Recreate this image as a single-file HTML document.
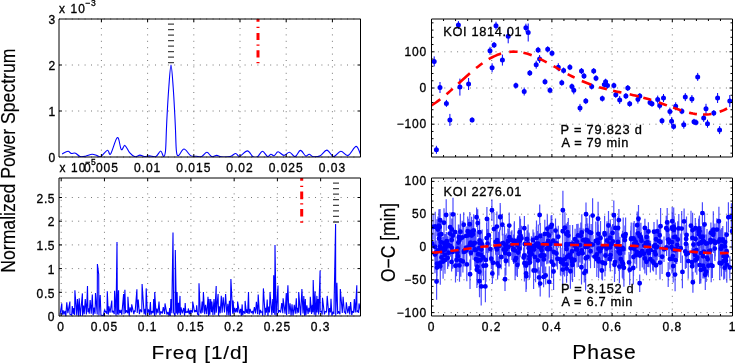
<!DOCTYPE html>
<html><head><meta charset="utf-8"><style>html,body{margin:0;padding:0;background:#fff;overflow:hidden;}svg{display:block;filter:blur(0.3px);}</style></head>
<body>
<svg width="735" height="363" viewBox="0 0 735 363" font-family='"Liberation Sans", sans-serif'>
<rect width="735" height="363" fill="#fff"/>
<defs>
<clipPath id="cTL"><rect x="59" y="19" width="301.5" height="138"/></clipPath>
<clipPath id="cBL"><rect x="59" y="178" width="301.5" height="138"/></clipPath>
<clipPath id="cTR"><rect x="431.5" y="19" width="301.0" height="138"/></clipPath>
<clipPath id="cBR"><rect x="431.5" y="178" width="301.0" height="138"/></clipPath>
</defs>
<line x1="101.40" y1="157" x2="101.40" y2="19" stroke="#777" stroke-width="1" stroke-dasharray="1 5.4"/>
<line x1="147.60" y1="157" x2="147.60" y2="19" stroke="#777" stroke-width="1" stroke-dasharray="1 5.4"/>
<line x1="193.80" y1="157" x2="193.80" y2="19" stroke="#777" stroke-width="1" stroke-dasharray="1 5.4"/>
<line x1="240.00" y1="157" x2="240.00" y2="19" stroke="#777" stroke-width="1" stroke-dasharray="1 5.4"/>
<line x1="286.20" y1="157" x2="286.20" y2="19" stroke="#777" stroke-width="1" stroke-dasharray="1 5.4"/>
<line x1="332.40" y1="157" x2="332.40" y2="19" stroke="#777" stroke-width="1" stroke-dasharray="1 5.4"/>
<line x1="59" y1="111.00" x2="360.5" y2="111.00" stroke="#777" stroke-width="1" stroke-dasharray="1 5.4"/>
<line x1="59" y1="65.00" x2="360.5" y2="65.00" stroke="#777" stroke-width="1" stroke-dasharray="1 5.4"/>
<line x1="59" y1="19.00" x2="360.5" y2="19.00" stroke="#777" stroke-width="1" stroke-dasharray="1 5.4"/>
<line x1="59" y1="157.00" x2="360.5" y2="157.00" stroke="#777" stroke-width="1" stroke-dasharray="1 5.4"/>
<g clip-path="url(#cTL)"><path d="M62.1,154 C63.08,153.53 66.5,151.3 68,151.2 C69.5,151.1 69.85,153.07 71.1,153.4 C72.35,153.73 74.02,152.68 75.5,153.2 C76.98,153.72 78.33,156 80,156.5 C81.67,157 83.48,156.57 85.5,156.2 C87.52,155.83 90.18,154.4 92.1,154.3 C94.02,154.2 95.53,155.23 97,155.6 C98.47,155.97 99.15,157.4 100.9,156.5 C102.65,155.6 105.88,150.62 107.5,150.2 C109.12,149.78 108.95,156.12 110.6,154 C112.25,151.88 115.62,138.23 117.4,137.5 C119.18,136.77 120.05,148.28 121.3,149.6 C122.55,150.92 123.52,144.9 124.9,145.4 C126.28,145.9 127.92,150.72 129.6,152.6 C131.28,154.48 133.28,156.28 135,156.7 C136.72,157.12 138.35,155.13 139.9,155.1 C141.45,155.07 142.73,156.37 144.3,156.5 C145.87,156.63 147.37,155.9 149.3,155.9 C151.23,155.9 154,157.32 155.9,156.5 C157.8,155.68 159.42,151 160.7,151 C161.98,151 162.8,156.5 163.6,156.5 C164.4,156.5 165.03,155.42 165.5,151 C165.97,146.58 166.13,136 166.4,130 C166.67,124 166.7,122.08 167.1,115 C167.5,107.92 168.15,95.83 168.8,87.5 C169.45,79.17 170.27,65 171,65 C171.73,65 172.57,79.17 173.2,87.5 C173.83,95.83 174.42,107.92 174.8,115 C175.18,122.08 175.23,124 175.5,130 C175.77,136 175.9,146.73 176.4,151 C176.9,155.27 177.23,155.93 178.5,155.6 C179.77,155.27 181.98,149 184,149 C186.02,149 188.57,154.4 190.6,155.6 C192.63,156.8 194.35,156.05 196.2,156.2 C198.05,156.35 199.92,157.15 201.7,156.5 C203.48,155.85 205.23,152.28 206.9,152.3 C208.57,152.32 210.07,156.08 211.7,156.6 C213.33,157.12 215.12,155.37 216.7,155.4 C218.28,155.43 218.97,156.6 221.2,156.8 C223.43,157 227.68,157.15 230.1,156.6 C232.52,156.05 234.12,153.55 235.7,153.5 C237.28,153.45 237.65,156.73 239.6,156.3 C241.55,155.87 245.17,150.82 247.4,150.9 C249.63,150.98 251.32,155.82 253,156.8 C254.68,157.78 255.92,157.73 257.5,156.8 C259.08,155.87 260.83,151.25 262.5,151.2 C264.17,151.15 266.1,156 267.5,156.5 C268.9,157 269.78,154.33 270.9,154.2 C272.02,154.07 273,156.1 274.2,155.7 C275.4,155.3 276.48,151.85 278.1,151.8 C279.72,151.75 282,155.32 283.9,155.4 C285.8,155.48 287.63,152.1 289.5,152.3 C291.37,152.5 293.28,156.92 295.1,156.6 C296.92,156.28 298.63,150.5 300.4,150.4 C302.17,150.3 304.23,155.37 305.7,156 C307.17,156.63 307.9,154.07 309.2,154.2 C310.5,154.33 311.67,156.55 313.5,156.8 C315.33,157.05 317.97,156.82 320.2,155.7 C322.43,154.58 324.67,149.95 326.9,150.1 C329.13,150.25 331.28,156.42 333.6,156.6 C335.92,156.78 338.38,151.4 340.8,151.2 C343.22,151 345.53,156.2 348.1,155.4 C350.67,154.6 354.05,146.3 356.2,146.4 C358.35,146.5 360.2,154.4 361,156" fill="none" stroke="#00f" stroke-width="1.1"/></g>
<path d="M168,24.1 h6 M168,29.7 h6 M168,35.1 h6 M168,40.6 h6 M168,46.1 h6 M168,51.7 h6 M168,57.1 h6 M168,62.6 h6 " stroke="#444" stroke-width="1.3"/>
<path d="M258,19 V21.8 M258,26.8 V27.9 M258,32.9 V40.1 M258,44.5 V45.7 M258,50.2 V57.6 M258,62 V63.3 " stroke="#f00" stroke-width="3" fill="none"/>
<path d="M101.40,157 v-3 M101.40,19 v3 M147.60,157 v-3 M147.60,19 v3 M193.80,157 v-3 M193.80,19 v3 M240.00,157 v-3 M240.00,19 v3 M286.20,157 v-3 M286.20,19 v3 M332.40,157 v-3 M332.40,19 v3 " stroke="#000" stroke-width="1"/>
<path d="M59,111.00 h3 M360.5,111.00 h-3 M59,65.00 h3 M360.5,65.00 h-3 " stroke="#000" stroke-width="1"/>
<path d="M59,157 L59,19 L360.5,19 L360.5,157 Z" fill="none" stroke="#000" stroke-width="1"/>
<text x="101.40" y="172.00" font-size="12" text-anchor="middle" fill="#000" stroke="#000" stroke-width="0.32" letter-spacing="1.0" >0.005</text>
<text x="147.60" y="172.00" font-size="12" text-anchor="middle" fill="#000" stroke="#000" stroke-width="0.32" letter-spacing="1.0" >0.01</text>
<text x="193.80" y="172.00" font-size="12" text-anchor="middle" fill="#000" stroke="#000" stroke-width="0.32" letter-spacing="1.0" >0.015</text>
<text x="240.00" y="172.00" font-size="12" text-anchor="middle" fill="#000" stroke="#000" stroke-width="0.32" letter-spacing="1.0" >0.02</text>
<text x="286.20" y="172.00" font-size="12" text-anchor="middle" fill="#000" stroke="#000" stroke-width="0.32" letter-spacing="1.0" >0.025</text>
<text x="332.40" y="172.00" font-size="12" text-anchor="middle" fill="#000" stroke="#000" stroke-width="0.32" letter-spacing="1.0" >0.03</text>
<text x="55.10" y="162.20" font-size="12" text-anchor="end" fill="#000" stroke="#000" stroke-width="0.32" >0</text>
<text x="55.10" y="116.20" font-size="12" text-anchor="end" fill="#000" stroke="#000" stroke-width="0.32" >1</text>
<text x="55.10" y="70.20" font-size="12" text-anchor="end" fill="#000" stroke="#000" stroke-width="0.32" >2</text>
<text x="55.10" y="24.20" font-size="12" text-anchor="end" fill="#000" stroke="#000" stroke-width="0.32" >3</text>
<text x="59.00" y="12.70" font-size="11.9" text-anchor="start" fill="#000" stroke="#000" stroke-width="0.32" letter-spacing="1.1" >x 10</text>
<text x="85.50" y="6.00" font-size="8.5" text-anchor="start" fill="#000" stroke="#000" stroke-width="0.32" letter-spacing="0.5" >−3</text>
<line x1="61.20" y1="316" x2="61.20" y2="178" stroke="#777" stroke-width="1" stroke-dasharray="1 5.4"/>
<line x1="104.44" y1="316" x2="104.44" y2="178" stroke="#777" stroke-width="1" stroke-dasharray="1 5.4"/>
<line x1="147.68" y1="316" x2="147.68" y2="178" stroke="#777" stroke-width="1" stroke-dasharray="1 5.4"/>
<line x1="190.92" y1="316" x2="190.92" y2="178" stroke="#777" stroke-width="1" stroke-dasharray="1 5.4"/>
<line x1="234.16" y1="316" x2="234.16" y2="178" stroke="#777" stroke-width="1" stroke-dasharray="1 5.4"/>
<line x1="277.40" y1="316" x2="277.40" y2="178" stroke="#777" stroke-width="1" stroke-dasharray="1 5.4"/>
<line x1="320.64" y1="316" x2="320.64" y2="178" stroke="#777" stroke-width="1" stroke-dasharray="1 5.4"/>
<line x1="59" y1="292.30" x2="360.5" y2="292.30" stroke="#777" stroke-width="1" stroke-dasharray="1 5.4"/>
<line x1="59" y1="268.60" x2="360.5" y2="268.60" stroke="#777" stroke-width="1" stroke-dasharray="1 5.4"/>
<line x1="59" y1="244.90" x2="360.5" y2="244.90" stroke="#777" stroke-width="1" stroke-dasharray="1 5.4"/>
<line x1="59" y1="221.20" x2="360.5" y2="221.20" stroke="#777" stroke-width="1" stroke-dasharray="1 5.4"/>
<line x1="59" y1="197.50" x2="360.5" y2="197.50" stroke="#777" stroke-width="1" stroke-dasharray="1 5.4"/>
<line x1="59" y1="316.00" x2="360.5" y2="316.00" stroke="#777" stroke-width="1" stroke-dasharray="1 5.4"/>
<g clip-path="url(#cBL)"><path d="M60,314.75 L61.8,303.4 L62.12,314.83 L63.18,310.4 L63.86,314.49 L64.99,310.91 L65.83,315.89 L66.78,302.4 L67.86,313.08 L68.71,308.41 L69.9,301.5 L69.92,314.21 L71.68,315.12 L72.27,306.15 L73.25,314.14 L73.77,308.12 L74.66,314.91 L74.9,290.3 L76.74,315.5 L77.42,299 L78.55,315.73 L79.2,298.3 L80.32,315.98 L82.4,293.4 L82.56,315.71 L83.51,305.42 L84.2,314.19 L85.27,299 L86.38,314.43 L87.5,286 L87.96,312.19 L88.64,308.4 L89.26,313.72 L90.14,300.15 L91.24,313.8 L92.3,294.6 L93.14,315.34 L94.09,307.67 L95.04,313.82 L95.5,293 L97.22,314.51 L97.4,264 L98.7,274.3 L98.91,315.57 L100.2,295 L100.93,315 L103.24,315.82 L104.62,309.53 L105.46,312.31 L106.16,311.38 L106.89,313.9 L107.3,291.2 L108.29,314.59 L108.97,306.26 L110.02,312.77 L111.8,300.6 L112.12,312.51 L112.88,310.65 L114.26,313.97 L114.6,290.8 L116.01,315.79 L117,242 L117.37,314.57 L118.6,290.3 L118.73,314.68 L119.28,310.05 L120.27,312.98 L120.98,309.8 L121.77,314.76 L123.6,294 L124.04,314.25 L124.9,289.7 L125.54,313.15 L126.46,310.31 L127.86,313.22 L127.9,296.8 L129.22,315.63 L130.09,307.4 L131.51,312.33 L131.7,304.3 L133.83,314.16 L134.5,310.42 L135.11,312.01 L136.9,289.3 L137.2,312.87 L138.23,299.62 L139.37,314.19 L140.4,309.43 L141.77,312.24 L142.1,284.1 L144.1,314.12 L145.05,308.88 L145.75,315.44 L146.2,288.4 L147.41,313.31 L148.51,309.29 L149.52,314.89 L150.4,302 L150.99,314.71 L151.97,311.1 L153.11,313.21 L153.65,299 L154.53,315.86 L154.7,292.1 L156.09,314.61 L156.89,308.53 L157.98,313.17 L159,301.5 L159.89,314.99 L160.86,311.39 L162.25,313.58 L163.29,307.15 L164.64,313.92 L165,303.4 L166.98,314.69 L167.9,311.99 L169.02,315.7 L169.66,308.03 L170.27,315.88 L170.86,299 L171.87,313.17 L172.1,290.3 L173,232.4 L173.59,312.41 L175.08,315.89 L175.3,249.9 L176.39,313.47 L177.1,292.1 L177.63,314.66 L178.49,302.88 L179.01,313.29 L180,295.9 L180.32,314.96 L181.05,307.41 L182.26,313.44 L183.65,307.98 L184.6,315.73 L185.2,303 L185.82,312.85 L187.02,311.65 L187.85,312.59 L188.36,308.45 L189.26,314.39 L190.17,310.03 L190.76,314.23 L191.39,310.3 L192.56,312.52 L192.7,301.5 L194.62,312.24 L195.3,310.15 L196.2,312.04 L196.68,305.4 L197.51,313.98 L198.78,315.5 L199,283.3 L200.26,311.78 L201.12,313.5 L202.13,301.6 L202.81,312.73 L203.4,292.1 L204.7,314.12 L205.53,304.86 L206.74,314.28 L208,296.8 L208.58,315.93 L209.12,299 L209.85,314.82 L210.68,299 L211.51,312.16 L211.9,301.5 L212.92,314.84 L213.99,299 L214.68,314.66 L216.2,286 L216.22,312.77 L218.1,294 L218.53,315.72 L219.29,306.25 L220.19,313.32 L221.3,295.9 L222.14,312.77 L223.2,297.2 L224.51,312.52 L225.6,294 L226.88,315.2 L227.86,303.73 L228.82,315.49 L229.42,300.79 L230.37,315.95 L230.9,279 L232.68,313.67 L233.1,300.6 L234.04,313.34 L234.75,307.86 L235.75,312.38 L236.58,308.08 L237.43,312.42 L237.6,301.5 L239.5,313.31 L240.6,308.92 L241.3,315.88 L242.18,304.4 L242.67,315.35 L243.5,311.08 L245.02,313.63 L245.1,300.9 L246.32,312.78 L247.11,309.4 L247.65,313.48 L248.5,292.1 L249.02,313.96 L250.06,308.97 L251.25,313.07 L252.34,310.87 L253.13,314.3 L254.4,307.1 L255.52,313.44 L256.38,301.91 L257.65,314.13 L258.2,294.6 L259.47,314.73 L260.44,309.95 L261.02,312.21 L262.08,311.76 L262.71,315.7 L263.4,288.4 L265.1,315.26 L265.75,307.92 L266.36,312.71 L267.2,299.6 L267.93,315.98 L268.76,306.53 L269.52,312.52 L270,292.1 L271.87,314.84 L272.78,299 L273.43,313 L273.7,275.3 L274.72,314.81 L275,245 L276.1,315.76 L278,285.6 L278.19,312.92 L279.36,310.28 L280.57,312.45 L281.75,303.08 L282.82,313.14 L283.1,298.3 L285.07,313.63 L286.3,293.1 L286.59,315.23 L287.9,285.2 L288.9,313.95 L290.03,303.3 L291.08,315.65 L292,304.3 L293.07,315.79 L294.26,304.78 L295.33,313.65 L296.3,298.3 L296.99,313.55 L297.75,307.8 L298.59,312.74 L298.7,292.1 L300.64,315.49 L301.9,289 L303,313.56 L303.8,295.9 L304.55,315.74 L305.32,299 L305.86,315.49 L306.85,305.38 L308.11,314.01 L308.8,307.84 L309.89,312.34 L310.3,296.8 L311.58,314.03 L312.26,304.73 L312.97,312.34 L313.2,280 L314.27,314.72 L315,291.2 L315.79,315.66 L316.9,295.9 L317.09,312.43 L318.05,299 L318.64,314.45 L320.1,270.6 L320.15,312.13 L321.43,311.25 L322.19,314.57 L322.5,297.8 L324.43,314.46 L325.24,311.41 L326.5,312 L327.2,295.9 L328.84,315.49 L329.57,308.14 L330.47,312.44 L331,298.7 L331.9,315.83 L333.04,311.65 L333.9,313.98 L335.6,224 L335.7,315.81 L336.9,282.8 L337.69,313.87 L338.57,311.3 L339.97,314.36 L340.3,289 L342.3,313.05 L343.1,296.8 L344.36,312.11 L345.08,311.88 L345.65,314.16 L346.3,302.4 L347.78,313.25 L349.03,306.16 L349.72,314.35 L350.6,302.1 L351.77,315.03 L352.55,311.05 L353.57,312.65 L354.32,299 L355.29,312.39 L356.8,285.2 L356.91,312.16 L357.85,310.34 L358.64,312.82 L359,303.4 L361,313.17 L362,308" fill="none" stroke="#00f" stroke-width="1.1" stroke-linejoin="miter" stroke-miterlimit="2"/></g>
<path d="M333,183.1 h6 M333,188.6 h6 M333,194.2 h6 M333,199.7 h6 M333,205.3 h6 M333,210.8 h6 M333,216.4 h6 M333,222 h6 " stroke="#444" stroke-width="1.3"/>
<path d="M301.7,178 V180.7 M301.7,185.8 V186.9 M301.7,191.5 V199.2 M301.7,203.3 V204.6 M301.7,209 V216.6 M301.7,221.2 V222.8 " stroke="#f00" stroke-width="3" fill="none"/>
<path d="M61.20,316 v-3 M61.20,178 v3 M104.44,316 v-3 M104.44,178 v3 M147.68,316 v-3 M147.68,178 v3 M190.92,316 v-3 M190.92,178 v3 M234.16,316 v-3 M234.16,178 v3 M277.40,316 v-3 M277.40,178 v3 M320.64,316 v-3 M320.64,178 v3 " stroke="#000" stroke-width="1"/>
<path d="M59,292.30 h3 M360.5,292.30 h-3 M59,268.60 h3 M360.5,268.60 h-3 M59,244.90 h3 M360.5,244.90 h-3 M59,221.20 h3 M360.5,221.20 h-3 M59,197.50 h3 M360.5,197.50 h-3 " stroke="#000" stroke-width="1"/>
<path d="M59,316 L59,178 L360.5,178 L360.5,316 Z" fill="none" stroke="#000" stroke-width="1"/>
<text x="61.20" y="331.00" font-size="12" text-anchor="middle" fill="#000" stroke="#000" stroke-width="0.32" letter-spacing="1.0" >0</text>
<text x="104.44" y="331.00" font-size="12" text-anchor="middle" fill="#000" stroke="#000" stroke-width="0.32" letter-spacing="1.0" >0.05</text>
<text x="147.68" y="331.00" font-size="12" text-anchor="middle" fill="#000" stroke="#000" stroke-width="0.32" letter-spacing="1.0" >0.1</text>
<text x="190.92" y="331.00" font-size="12" text-anchor="middle" fill="#000" stroke="#000" stroke-width="0.32" letter-spacing="1.0" >0.15</text>
<text x="234.16" y="331.00" font-size="12" text-anchor="middle" fill="#000" stroke="#000" stroke-width="0.32" letter-spacing="1.0" >0.2</text>
<text x="277.40" y="331.00" font-size="12" text-anchor="middle" fill="#000" stroke="#000" stroke-width="0.32" letter-spacing="1.0" >0.25</text>
<text x="320.64" y="331.00" font-size="12" text-anchor="middle" fill="#000" stroke="#000" stroke-width="0.32" letter-spacing="1.0" >0.3</text>
<text x="55.10" y="321.20" font-size="12" text-anchor="end" fill="#000" stroke="#000" stroke-width="0.32" letter-spacing="0.6" >0</text>
<text x="55.10" y="297.50" font-size="12" text-anchor="end" fill="#000" stroke="#000" stroke-width="0.32" letter-spacing="0.6" >0.5</text>
<text x="55.10" y="273.80" font-size="12" text-anchor="end" fill="#000" stroke="#000" stroke-width="0.32" letter-spacing="0.6" >1</text>
<text x="55.10" y="250.10" font-size="12" text-anchor="end" fill="#000" stroke="#000" stroke-width="0.32" letter-spacing="0.6" >1.5</text>
<text x="55.10" y="226.40" font-size="12" text-anchor="end" fill="#000" stroke="#000" stroke-width="0.32" letter-spacing="0.6" >2</text>
<text x="55.10" y="202.70" font-size="12" text-anchor="end" fill="#000" stroke="#000" stroke-width="0.32" letter-spacing="0.6" >2.5</text>
<text x="59.50" y="171.60" font-size="11.9" text-anchor="start" fill="#000" stroke="#000" stroke-width="0.32" letter-spacing="1.1" >x 10</text>
<text x="85.50" y="164.80" font-size="8.5" text-anchor="start" fill="#000" stroke="#000" stroke-width="0.32" letter-spacing="0.5" >−5</text>
<line x1="491.70" y1="157" x2="491.70" y2="19" stroke="#777" stroke-width="1" stroke-dasharray="1 5.4"/>
<line x1="551.90" y1="157" x2="551.90" y2="19" stroke="#777" stroke-width="1" stroke-dasharray="1 5.4"/>
<line x1="612.10" y1="157" x2="612.10" y2="19" stroke="#777" stroke-width="1" stroke-dasharray="1 5.4"/>
<line x1="672.30" y1="157" x2="672.30" y2="19" stroke="#777" stroke-width="1" stroke-dasharray="1 5.4"/>
<line x1="431.50" y1="157" x2="431.50" y2="19" stroke="#777" stroke-width="1" stroke-dasharray="1 5.4"/>
<line x1="732.50" y1="157" x2="732.50" y2="19" stroke="#777" stroke-width="1" stroke-dasharray="1 5.4"/>
<line x1="431.5" y1="124.20" x2="732.5" y2="124.20" stroke="#777" stroke-width="1" stroke-dasharray="1 5.4"/>
<line x1="431.5" y1="88.00" x2="732.5" y2="88.00" stroke="#777" stroke-width="1" stroke-dasharray="1 5.4"/>
<line x1="431.5" y1="51.80" x2="732.5" y2="51.80" stroke="#777" stroke-width="1" stroke-dasharray="1 5.4"/>
<g clip-path="url(#cTR)"><path d="M434.2,56.4 V66.4 M458.4,21.1 V29.1 M440,82.0 V93.0 M459.9,78.6 V95.6 M539.6,55.0 V63.0 M468.6,78.0 V90.0 M490,46.8 V54.8 M446.4,99.9 V106.9 M449.9,113.9 V125.9 M472.1,117.4 V122.4 M436.4,145.8 V153.8 M496,21.7 V29.7 M508.2,29.3 V43.3 M525.9,23.7 V31.7 M528.2,23.5 V41.5 M494.1,42.0 V48.0 M492.1,63.3 V72.3 M502.4,54.6 V65.6 M538.1,46.9 V52.9 M536.2,60.7 V68.7 M529.8,70.0 V76.0 M515.9,82.6 V88.6 M545,78.7 V84.7 M524.2,87.5 V95.5 M547.7,46.3 V52.3 M552,50.3 V56.3 M558.3,63.2 V71.2 M563.6,67.5 V73.5 M569.9,64.2 V70.2 M581.5,68.1 V74.1 M584,72.9 V78.9 M593.7,68.1 V74.1 M596,75.2 V81.2 M561.8,79.7 V85.7 M571.9,83.5 V89.5 M591.7,83.5 V89.5 M550,87.3 V93.3 M573.8,86.3 V94.3 M585.8,98.1 V104.1 M580,103.9 V111.9 M605.6,78.7 V84.7 M604.3,81.6 V87.6 M607.5,82.6 V88.6 M613.9,82.6 V88.6 M627.8,85.0 V91.0 M697.7,72.9 V80.9 M602.3,95.6 V101.6 M615.8,91.8 V97.8 M619.7,96.0 V104.0 M625.9,93.1 V99.1 M629.7,100.8 V106.8 M637.9,95.6 V103.6 M639.8,93.1 V99.1 M650,99.5 V105.5 M652,100.8 V106.8 M657.7,95.6 V103.6 M659.7,101.4 V109.4 M663.5,94.0 V102.0 M669.9,107.6 V115.6 M675.7,102.3 V110.3 M681.9,108.2 V114.2 M685.3,93.1 V101.1 M691.9,95.0 V103.0 M662,117.8 V123.8 M671.6,117.2 V125.2 M673.6,123.6 V129.6 M683.8,120.7 V128.7 M694,118.8 V124.8 M696,119.4 V125.4 M703.7,113.9 V121.9 M706,103.8 V113.8 M707.5,119.7 V127.7 M713.8,110.1 V116.1 M717.6,93.0 V103.0 M719.6,126.1 V134.1 M729.8,95.1 V107.1 " stroke="#00f" stroke-width="1"/><path d="M431.7,61.4 a2.5,2.5 0 1,0 5,0 a2.5,2.5 0 1,0 -5,0 M455.9,25.1 a2.5,2.5 0 1,0 5,0 a2.5,2.5 0 1,0 -5,0 M437.5,87.5 a2.5,2.5 0 1,0 5,0 a2.5,2.5 0 1,0 -5,0 M457.4,87.1 a2.5,2.5 0 1,0 5,0 a2.5,2.5 0 1,0 -5,0 M537.1,59 a2.5,2.5 0 1,0 5,0 a2.5,2.5 0 1,0 -5,0 M466.1,84 a2.5,2.5 0 1,0 5,0 a2.5,2.5 0 1,0 -5,0 M487.5,50.8 a2.5,2.5 0 1,0 5,0 a2.5,2.5 0 1,0 -5,0 M443.9,103.4 a2.5,2.5 0 1,0 5,0 a2.5,2.5 0 1,0 -5,0 M447.4,119.9 a2.5,2.5 0 1,0 5,0 a2.5,2.5 0 1,0 -5,0 M469.6,119.9 a2.5,2.5 0 1,0 5,0 a2.5,2.5 0 1,0 -5,0 M433.9,149.8 a2.5,2.5 0 1,0 5,0 a2.5,2.5 0 1,0 -5,0 M493.5,25.7 a2.5,2.5 0 1,0 5,0 a2.5,2.5 0 1,0 -5,0 M505.7,36.3 a2.5,2.5 0 1,0 5,0 a2.5,2.5 0 1,0 -5,0 M523.4,27.7 a2.5,2.5 0 1,0 5,0 a2.5,2.5 0 1,0 -5,0 M525.7,32.5 a2.5,2.5 0 1,0 5,0 a2.5,2.5 0 1,0 -5,0 M491.6,45 a2.5,2.5 0 1,0 5,0 a2.5,2.5 0 1,0 -5,0 M489.6,67.8 a2.5,2.5 0 1,0 5,0 a2.5,2.5 0 1,0 -5,0 M499.9,60.1 a2.5,2.5 0 1,0 5,0 a2.5,2.5 0 1,0 -5,0 M535.6,49.9 a2.5,2.5 0 1,0 5,0 a2.5,2.5 0 1,0 -5,0 M533.7,64.7 a2.5,2.5 0 1,0 5,0 a2.5,2.5 0 1,0 -5,0 M527.3,73 a2.5,2.5 0 1,0 5,0 a2.5,2.5 0 1,0 -5,0 M513.4,85.6 a2.5,2.5 0 1,0 5,0 a2.5,2.5 0 1,0 -5,0 M542.5,81.7 a2.5,2.5 0 1,0 5,0 a2.5,2.5 0 1,0 -5,0 M521.7,91.5 a2.5,2.5 0 1,0 5,0 a2.5,2.5 0 1,0 -5,0 M545.2,49.3 a2.5,2.5 0 1,0 5,0 a2.5,2.5 0 1,0 -5,0 M549.5,53.3 a2.5,2.5 0 1,0 5,0 a2.5,2.5 0 1,0 -5,0 M555.8,67.2 a2.5,2.5 0 1,0 5,0 a2.5,2.5 0 1,0 -5,0 M561.1,70.5 a2.5,2.5 0 1,0 5,0 a2.5,2.5 0 1,0 -5,0 M567.4,67.2 a2.5,2.5 0 1,0 5,0 a2.5,2.5 0 1,0 -5,0 M579.0,71.1 a2.5,2.5 0 1,0 5,0 a2.5,2.5 0 1,0 -5,0 M581.5,75.9 a2.5,2.5 0 1,0 5,0 a2.5,2.5 0 1,0 -5,0 M591.2,71.1 a2.5,2.5 0 1,0 5,0 a2.5,2.5 0 1,0 -5,0 M593.5,78.2 a2.5,2.5 0 1,0 5,0 a2.5,2.5 0 1,0 -5,0 M559.3,82.7 a2.5,2.5 0 1,0 5,0 a2.5,2.5 0 1,0 -5,0 M569.4,86.5 a2.5,2.5 0 1,0 5,0 a2.5,2.5 0 1,0 -5,0 M589.2,86.5 a2.5,2.5 0 1,0 5,0 a2.5,2.5 0 1,0 -5,0 M547.5,90.3 a2.5,2.5 0 1,0 5,0 a2.5,2.5 0 1,0 -5,0 M571.3,90.3 a2.5,2.5 0 1,0 5,0 a2.5,2.5 0 1,0 -5,0 M583.3,101.1 a2.5,2.5 0 1,0 5,0 a2.5,2.5 0 1,0 -5,0 M577.5,107.9 a2.5,2.5 0 1,0 5,0 a2.5,2.5 0 1,0 -5,0 M603.1,81.7 a2.5,2.5 0 1,0 5,0 a2.5,2.5 0 1,0 -5,0 M601.8,84.6 a2.5,2.5 0 1,0 5,0 a2.5,2.5 0 1,0 -5,0 M605.0,85.6 a2.5,2.5 0 1,0 5,0 a2.5,2.5 0 1,0 -5,0 M611.4,85.6 a2.5,2.5 0 1,0 5,0 a2.5,2.5 0 1,0 -5,0 M625.3,88 a2.5,2.5 0 1,0 5,0 a2.5,2.5 0 1,0 -5,0 M695.2,76.9 a2.5,2.5 0 1,0 5,0 a2.5,2.5 0 1,0 -5,0 M599.8,98.6 a2.5,2.5 0 1,0 5,0 a2.5,2.5 0 1,0 -5,0 M613.3,94.8 a2.5,2.5 0 1,0 5,0 a2.5,2.5 0 1,0 -5,0 M617.2,100 a2.5,2.5 0 1,0 5,0 a2.5,2.5 0 1,0 -5,0 M623.4,96.1 a2.5,2.5 0 1,0 5,0 a2.5,2.5 0 1,0 -5,0 M627.2,103.8 a2.5,2.5 0 1,0 5,0 a2.5,2.5 0 1,0 -5,0 M635.4,99.6 a2.5,2.5 0 1,0 5,0 a2.5,2.5 0 1,0 -5,0 M637.3,96.1 a2.5,2.5 0 1,0 5,0 a2.5,2.5 0 1,0 -5,0 M647.5,102.5 a2.5,2.5 0 1,0 5,0 a2.5,2.5 0 1,0 -5,0 M649.5,103.8 a2.5,2.5 0 1,0 5,0 a2.5,2.5 0 1,0 -5,0 M655.2,99.6 a2.5,2.5 0 1,0 5,0 a2.5,2.5 0 1,0 -5,0 M657.2,105.4 a2.5,2.5 0 1,0 5,0 a2.5,2.5 0 1,0 -5,0 M661.0,98 a2.5,2.5 0 1,0 5,0 a2.5,2.5 0 1,0 -5,0 M667.4,111.6 a2.5,2.5 0 1,0 5,0 a2.5,2.5 0 1,0 -5,0 M673.2,106.3 a2.5,2.5 0 1,0 5,0 a2.5,2.5 0 1,0 -5,0 M679.4,111.2 a2.5,2.5 0 1,0 5,0 a2.5,2.5 0 1,0 -5,0 M682.8,97.1 a2.5,2.5 0 1,0 5,0 a2.5,2.5 0 1,0 -5,0 M689.4,99 a2.5,2.5 0 1,0 5,0 a2.5,2.5 0 1,0 -5,0 M659.5,120.8 a2.5,2.5 0 1,0 5,0 a2.5,2.5 0 1,0 -5,0 M669.1,121.2 a2.5,2.5 0 1,0 5,0 a2.5,2.5 0 1,0 -5,0 M671.1,126.6 a2.5,2.5 0 1,0 5,0 a2.5,2.5 0 1,0 -5,0 M681.3,124.7 a2.5,2.5 0 1,0 5,0 a2.5,2.5 0 1,0 -5,0 M691.5,121.8 a2.5,2.5 0 1,0 5,0 a2.5,2.5 0 1,0 -5,0 M693.5,122.4 a2.5,2.5 0 1,0 5,0 a2.5,2.5 0 1,0 -5,0 M701.2,117.9 a2.5,2.5 0 1,0 5,0 a2.5,2.5 0 1,0 -5,0 M703.5,108.8 a2.5,2.5 0 1,0 5,0 a2.5,2.5 0 1,0 -5,0 M705.0,123.7 a2.5,2.5 0 1,0 5,0 a2.5,2.5 0 1,0 -5,0 M711.3,113.1 a2.5,2.5 0 1,0 5,0 a2.5,2.5 0 1,0 -5,0 M715.1,98 a2.5,2.5 0 1,0 5,0 a2.5,2.5 0 1,0 -5,0 M717.1,130.1 a2.5,2.5 0 1,0 5,0 a2.5,2.5 0 1,0 -5,0 M727.3,101.1 a2.5,2.5 0 1,0 5,0 a2.5,2.5 0 1,0 -5,0 " fill="#00f"/>
<path d="M431.5,105.43 L433.7,104 L435.9,102.49 L438.1,100.9 L440.3,99.23 M446.5,94.19 L448.57,92.42 L450.63,90.61 L452.7,88.77 M458.2,83.8 L460.15,82.02 L462.1,80.24 L464.05,78.48 L466,76.72 L467.95,74.99 L469.9,73.29 M476.1,68.1 L478.23,66.42 L480.37,64.8 L482.5,63.25 M488.7,59.22 L490.47,58.21 L492.24,57.26 L494.01,56.38 L495.79,55.57 L497.56,54.83 L499.33,54.17 L501.1,53.58 M509.3,51.87 L511.38,51.7 L513.45,51.64 L515.52,51.68 L517.6,51.82 M523.4,52.73 L525.48,53.23 L527.55,53.82 L529.62,54.49 L531.7,55.23 M539.1,58.41 L541,59.33 L542.9,60.3 L544.8,61.29 L546.7,62.31 M553.6,66.17 L555.87,67.46 L558.13,68.76 L560.4,70.05 M567.7,74.09 L570,75.31 L572.3,76.5 L574.6,77.65 M581.8,80.98 L583.7,81.79 L585.6,82.57 L587.5,83.31 L589.4,84.03 L591.3,84.71 M599.1,87.23 L601.05,87.79 L603,88.33 L604.95,88.84 L606.9,89.34 M613.1,90.79 L615.17,91.25 L617.25,91.7 L619.33,92.14 L621.4,92.58 M629.7,94.35 L631.52,94.75 L633.34,95.17 L635.16,95.59 L636.98,96.03 L638.8,96.48 M643.3,97.66 L645.27,98.2 L647.25,98.77 L649.23,99.36 L651.2,99.97 M659,102.55 L660.98,103.24 L662.95,103.95 L664.92,104.66 L666.9,105.38 M673.1,107.64 L675.15,108.38 L677.2,109.09 L679.25,109.79 L681.3,110.46 M689.1,112.68 L691.05,113.13 L693,113.53 L694.95,113.86 L696.9,114.14 M703.1,114.57 L705.17,114.55 L707.25,114.44 L709.33,114.24 L711.4,113.94 M719.7,111.77 L722.17,110.82 L724.63,109.74 L727.1,108.52 " fill="none" stroke="#f00" stroke-width="2.6"/>
</g>
<path d="M491.70,157 v-3 M491.70,19 v3 M551.90,157 v-3 M551.90,19 v3 M612.10,157 v-3 M612.10,19 v3 M672.30,157 v-3 M672.30,19 v3 " stroke="#000" stroke-width="1"/>
<path d="M431.5,124.20 h3 M732.5,124.20 h-3 M431.5,88.00 h3 M732.5,88.00 h-3 M431.5,51.80 h3 M732.5,51.80 h-3 " stroke="#000" stroke-width="1"/>
<path d="M443.54,157 v-2 M443.54,19 v2 M455.58,157 v-2 M455.58,19 v2 M467.62,157 v-2 M467.62,19 v2 M479.66,157 v-2 M479.66,19 v2 M503.74,157 v-2 M503.74,19 v2 M515.78,157 v-2 M515.78,19 v2 M527.82,157 v-2 M527.82,19 v2 M539.86,157 v-2 M539.86,19 v2 M563.94,157 v-2 M563.94,19 v2 M575.98,157 v-2 M575.98,19 v2 M588.02,157 v-2 M588.02,19 v2 M600.06,157 v-2 M600.06,19 v2 M624.14,157 v-2 M624.14,19 v2 M636.18,157 v-2 M636.18,19 v2 M648.22,157 v-2 M648.22,19 v2 M660.26,157 v-2 M660.26,19 v2 M684.34,157 v-2 M684.34,19 v2 M696.38,157 v-2 M696.38,19 v2 M708.42,157 v-2 M708.42,19 v2 M720.46,157 v-2 M720.46,19 v2 " stroke="#000" stroke-width="1"/>
<path d="M431.5,153.16 h2 M732.5,153.16 h-2 M431.5,145.92 h2 M732.5,145.92 h-2 M431.5,138.68 h2 M732.5,138.68 h-2 M431.5,131.44 h2 M732.5,131.44 h-2 M431.5,116.96 h2 M732.5,116.96 h-2 M431.5,109.72 h2 M732.5,109.72 h-2 M431.5,102.48 h2 M732.5,102.48 h-2 M431.5,95.24 h2 M732.5,95.24 h-2 M431.5,80.76 h2 M732.5,80.76 h-2 M431.5,73.52 h2 M732.5,73.52 h-2 M431.5,66.28 h2 M732.5,66.28 h-2 M431.5,59.04 h2 M732.5,59.04 h-2 M431.5,44.56 h2 M732.5,44.56 h-2 M431.5,37.32 h2 M732.5,37.32 h-2 M431.5,30.08 h2 M732.5,30.08 h-2 M431.5,22.84 h2 M732.5,22.84 h-2 " stroke="#000" stroke-width="1"/>
<path d="M431.5,157 L431.5,19 L732.5,19 L732.5,157 Z" fill="none" stroke="#000" stroke-width="1"/>
<text x="427.00" y="128.20" font-size="12" text-anchor="end" fill="#000" stroke="#000" stroke-width="0.32" letter-spacing="0.8" >−100</text>
<text x="427.00" y="92.00" font-size="12" text-anchor="end" fill="#000" stroke="#000" stroke-width="0.32" letter-spacing="0.8" >0</text>
<text x="427.00" y="55.80" font-size="12" text-anchor="end" fill="#000" stroke="#000" stroke-width="0.32" letter-spacing="0.8" >100</text>
<text x="443.25" y="36.40" font-size="12.8" text-anchor="start" fill="#000" stroke="#000" stroke-width="0.32" textLength="78.37" lengthAdjust="spacing" >KOI 1814.01</text>
<text x="560.45" y="133.50" font-size="12.8" text-anchor="start" fill="#000" stroke="#000" stroke-width="0.32" textLength="81.38" lengthAdjust="spacing" >P = 79.823 d</text>
<text x="561.48" y="146.60" font-size="12.8" text-anchor="start" fill="#000" stroke="#000" stroke-width="0.32" textLength="66.86" lengthAdjust="spacing" >A = 79 min</text>
<line x1="491.70" y1="316" x2="491.70" y2="178" stroke="#777" stroke-width="1" stroke-dasharray="1 5.4"/>
<line x1="551.90" y1="316" x2="551.90" y2="178" stroke="#777" stroke-width="1" stroke-dasharray="1 5.4"/>
<line x1="612.10" y1="316" x2="612.10" y2="178" stroke="#777" stroke-width="1" stroke-dasharray="1 5.4"/>
<line x1="672.30" y1="316" x2="672.30" y2="178" stroke="#777" stroke-width="1" stroke-dasharray="1 5.4"/>
<line x1="431.50" y1="316" x2="431.50" y2="178" stroke="#777" stroke-width="1" stroke-dasharray="1 5.4"/>
<line x1="732.50" y1="316" x2="732.50" y2="178" stroke="#777" stroke-width="1" stroke-dasharray="1 5.4"/>
<line x1="431.5" y1="312.60" x2="732.5" y2="312.60" stroke="#777" stroke-width="1" stroke-dasharray="1 5.4"/>
<line x1="431.5" y1="279.80" x2="732.5" y2="279.80" stroke="#777" stroke-width="1" stroke-dasharray="1 5.4"/>
<line x1="431.5" y1="247.00" x2="732.5" y2="247.00" stroke="#777" stroke-width="1" stroke-dasharray="1 5.4"/>
<line x1="431.5" y1="214.20" x2="732.5" y2="214.20" stroke="#777" stroke-width="1" stroke-dasharray="1 5.4"/>
<line x1="431.5" y1="181.40" x2="732.5" y2="181.40" stroke="#777" stroke-width="1" stroke-dasharray="1 5.4"/>
<g clip-path="url(#cBR)"><path d="M470.2,224.2 V243.2 M581.8,214.2 V250.9 M612.6,224.2 V241.5 M440.1,228.1 V264.8 M476.0,231.2 V268.3 M710.9,222.6 V243.1 M452.7,235.1 V268.7 M470.6,230.9 V254.2 M716.9,218.2 V241.1 M618.7,232.5 V271.1 M542.6,236.8 V273.3 M585.4,230.2 V264.0 M631.0,225.9 V252.4 M514.4,221.3 V260.0 M473.0,230.2 V259.7 M668.7,220.4 V259.0 M633.3,251.6 V284.4 M585.7,249.3 V267.2 M677.3,227.6 V262.1 M596.8,241.5 V276.9 M726.8,246.4 V282.8 M493.1,247.5 V278.2 M598.2,250.2 V267.9 M577.1,231.3 V267.4 M537.8,247.3 V273.5 M609.6,233.3 V254.5 M502.3,214.0 V235.5 M673.0,238.3 V259.6 M692.6,212.8 V247.7 M470.3,234.0 V252.5 M572.1,243.1 V280.3 M514.9,241.7 V259.0 M456.5,243.4 V276.3 M701.2,225.9 V247.9 M560.9,248.0 V276.3 M476.0,248.8 V269.6 M634.2,221.0 V257.8 M492.4,263.4 V283.7 M702.8,223.1 V250.3 M496.9,211.4 V241.8 M441.5,243.9 V270.8 M491.9,199.4 V221.1 M535.6,258.9 V282.2 M572.6,224.9 V262.5 M704.2,259.0 V278.6 M641.4,232.0 V249.3 M533.6,252.0 V288.9 M436.6,263.3 V299.8 M479.6,225.8 V257.8 M731.4,203.3 V230.6 M569.9,235.8 V273.8 M639.5,223.1 V249.1 M448.0,236.2 V253.4 M441.7,238.0 V264.5 M686.1,224.6 V253.2 M608.5,210.9 V240.0 M524.4,244.9 V281.5 M527.0,230.4 V248.8 M458.4,224.6 V260.4 M483.5,251.5 V279.9 M438.9,209.3 V242.4 M684.1,208.4 V234.4 M571.9,247.8 V271.2 M469.8,212.0 V236.4 M654.0,234.8 V257.7 M490.4,235.7 V262.6 M450.1,212.2 V242.3 M611.6,226.4 V261.6 M701.1,232.4 V253.1 M439.6,213.7 V240.5 M673.8,215.8 V244.4 M488.7,217.8 V252.8 M459.5,249.1 V281.7 M436.9,252.3 V283.0 M519.7,216.3 V248.1 M650.4,245.8 V272.6 M579.9,227.7 V262.4 M688.2,243.4 V278.8 M496.9,234.7 V264.1 M526.4,254.0 V273.5 M509.2,212.5 V238.8 M726.0,249.0 V271.7 M714.7,238.0 V259.2 M534.0,237.7 V261.2 M562.7,213.7 V248.7 M526.1,253.3 V277.9 M656.2,234.2 V260.6 M443.5,237.1 V262.4 M451.8,229.6 V250.5 M553.1,226.0 V255.6 M505.3,240.0 V266.1 M685.9,225.1 V262.7 M654.8,236.6 V267.2 M595.8,221.6 V260.1 M630.6,230.4 V266.3 M639.9,241.7 V269.5 M666.6,238.7 V256.0 M710.7,231.4 V253.0 M476.6,207.5 V227.0 M620.0,236.8 V270.0 M474.7,233.0 V252.9 M564.9,212.2 V243.4 M668.2,262.3 V286.3 M700.8,256.1 V283.6 M660.0,245.8 V279.4 M442.2,236.8 V260.2 M539.7,204.6 V225.3 M480.6,230.2 V253.5 M732.1,212.3 V250.0 M474.8,235.4 V264.5 M505.0,267.7 V290.9 M539.0,267.3 V287.4 M449.8,224.4 V242.8 M693.5,232.4 V256.7 M623.0,248.8 V279.3 M479.6,218.8 V245.8 M581.5,249.8 V284.6 M455.2,212.7 V251.6 M615.4,213.2 V242.7 M501.2,244.8 V269.3 M443.1,244.3 V278.8 M466.2,226.5 V245.4 M598.6,244.5 V278.2 M623.2,217.5 V253.9 M529.3,245.7 V279.7 M625.2,226.9 V245.9 M537.5,230.9 V260.6 M470.8,235.4 V270.0 M526.4,263.3 V289.3 M550.5,226.1 V261.7 M706.2,261.5 V282.1 M466.3,236.3 V264.9 M457.4,237.6 V266.8 M600.5,220.9 V255.3 M721.5,250.4 V276.5 M704.6,213.2 V235.8 M642.3,234.8 V267.4 M451.6,252.2 V271.6 M674.2,216.3 V241.3 M637.2,211.6 V238.8 M474.8,232.3 V266.6 M571.4,245.5 V271.8 M446.3,232.1 V261.5 M672.9,240.1 V272.0 M647.8,235.2 V267.0 M673.7,207.5 V245.7 M660.4,228.3 V255.4 M511.9,230.3 V259.9 M669.2,233.8 V251.1 M506.5,237.2 V258.3 M473.0,220.0 V242.4 M549.0,224.7 V246.2 M581.3,237.7 V266.0 M517.5,235.0 V256.3 M613.8,200.6 V230.1 M612.9,223.9 V259.0 M503.7,240.2 V258.7 M618.9,209.0 V231.2 M539.0,232.9 V260.8 M652.6,252.4 V270.4 M518.9,228.1 V248.2 M671.9,244.0 V273.6 M556.4,240.7 V266.4 M598.0,224.3 V261.2 M634.2,233.9 V263.4 M587.5,240.2 V273.8 M509.0,242.0 V266.5 M726.3,244.0 V269.3 M460.4,213.8 V249.6 M529.3,241.2 V271.7 M596.8,236.0 V273.1 M440.1,209.0 V231.5 M478.1,244.5 V264.0 M672.1,211.5 V243.4 M667.4,219.9 V239.6 M623.2,239.7 V258.3 M702.9,252.9 V278.4 M658.9,225.0 V257.1 M521.4,225.7 V250.6 M625.6,217.5 V251.1 M533.9,232.6 V259.5 M657.2,219.6 V242.8 M547.3,214.4 V243.1 M477.6,245.7 V276.0 M695.3,218.1 V238.4 M639.3,219.9 V249.9 M655.6,244.1 V264.7 M599.9,232.0 V270.3 M667.2,208.0 V236.7 M566.3,223.4 V244.8 M601.8,261.6 V279.4 M450.3,235.1 V256.7 M598.6,236.9 V260.8 M676.7,234.5 V264.1 M643.9,238.0 V269.5 M673.2,249.8 V282.4 M580.8,222.4 V249.0 M696.8,243.9 V274.7 M464.1,237.3 V266.4 M695.1,243.2 V266.6 M543.3,245.7 V267.4 M458.9,224.4 V250.1 M617.9,225.9 V258.0 M568.4,245.9 V265.8 M560.4,243.9 V274.9 M688.0,244.5 V261.8 M473.0,223.8 V244.8 M617.2,229.5 V261.2 M556.0,226.6 V261.3 M590.5,234.4 V268.2 M581.8,234.4 V266.4 M471.9,232.9 V255.4 M585.6,251.8 V290.6 M691.0,210.8 V240.9 M483.0,238.8 V275.8 M435.0,235.7 V273.3 M451.8,218.4 V240.5 M569.9,224.9 V263.2 M724.8,237.1 V255.8 M444.8,239.2 V270.1 M729.8,256.2 V278.8 M592.9,235.1 V254.1 M467.7,216.6 V246.1 M557.5,248.0 V269.6 M493.9,212.0 V246.3 M646.5,248.2 V275.3 M594.5,245.2 V268.1 M518.2,231.8 V248.9 M508.4,230.9 V263.1 M692.5,222.5 V253.4 M662.1,239.4 V274.1 M562.8,247.9 V273.2 M553.6,252.9 V290.1 M653.5,254.1 V271.5 M723.7,242.5 V279.7 M455.5,248.8 V282.6 M479.4,233.4 V252.5 M540.6,236.4 V275.1 M584.3,263.6 V282.5 M453.0,197.7 V231.2 M447.6,246.8 V269.1 M497.6,247.4 V279.6 M547.7,224.8 V260.2 M654.0,222.0 V241.5 M615.1,250.1 V274.1 M440.3,248.0 V284.7 M445.0,246.4 V273.8 M567.6,222.0 V242.3 M694.8,241.7 V260.5 M706.9,247.8 V267.4 M541.4,237.8 V257.0 M698.6,218.8 V243.6 M711.2,248.2 V282.3 M553.9,238.6 V265.5 M656.1,255.6 V274.7 M541.5,233.0 V257.7 M477.7,209.3 V236.9 M604.6,221.1 V247.9 M457.5,233.2 V264.3 M631.2,222.4 V254.3 M675.1,257.9 V291.3 M707.0,229.0 V257.7 M566.4,255.7 V273.3 M466.8,247.4 V281.3 M703.1,239.1 V273.3 M693.5,235.1 V268.1 M722.8,226.2 V252.8 M610.3,219.6 V256.1 M634.2,234.0 V253.1 M543.9,242.8 V276.0 M486.6,223.1 V253.2 M519.3,232.4 V264.8 M648.4,222.3 V240.7 M529.3,239.9 V278.2 M639.7,274.5 V292.0 M582.6,242.8 V263.7 M566.6,254.5 V282.8 M722.8,226.1 V255.6 M481.5,239.1 V260.0 M578.1,223.8 V247.0 M479.6,221.8 V259.0 M713.7,228.9 V252.9 M578.6,240.4 V267.1 M531.4,236.3 V255.7 M482.2,229.6 V259.1 M610.3,239.2 V271.6 M551.6,245.0 V278.3 M469.8,234.2 V256.2 M441.2,221.8 V246.8 M549.3,266.2 V297.6 M607.0,221.3 V259.7 M587.7,223.4 V257.3 M702.4,202.2 V224.0 M705.9,234.4 V252.8 M713.3,221.3 V245.4 M672.2,207.0 V235.6 M575.3,234.8 V257.8 M589.2,226.4 V260.7 M551.1,215.4 V237.9 M551.8,215.0 V234.7 M444.0,227.8 V258.0 M671.9,225.4 V259.1 M505.6,235.1 V256.5 M440.3,250.7 V275.0 M571.9,240.1 V262.8 M647.6,233.3 V250.8 M562.7,253.6 V285.5 M541.1,239.9 V257.9 M629.7,254.4 V284.9 M480.5,244.8 V275.6 M434.9,232.4 V261.0 M609.8,250.1 V267.9 M591.2,224.0 V241.8 M692.1,252.1 V280.4 M556.7,229.6 V257.3 M668.1,231.0 V248.2 M436.9,219.2 V236.3 M439.7,217.8 V251.8 M611.7,231.8 V255.9 M499.6,229.5 V262.2 M451.7,237.0 V258.3 M470.0,220.6 V243.3 M544.3,237.1 V273.9 M533.0,229.4 V250.7 M601.2,235.1 V261.1 M698.7,229.8 V257.7 M541.6,234.0 V266.6 M486.9,206.9 V230.8 M605.5,239.9 V271.1 M432.1,232.6 V254.4 M547.3,227.3 V259.2 M527.0,230.2 V247.6 M548.1,230.4 V251.5 M446.8,232.2 V250.4 M598.3,224.4 V243.5 M619.4,249.9 V283.3 M657.1,233.1 V260.3 M719.7,245.9 V280.1 M538.3,224.6 V263.0 M629.0,251.9 V272.9 M564.6,242.5 V276.4 M496.2,228.4 V266.8 M699.2,216.6 V240.4 M656.0,230.0 V248.6 M715.3,229.4 V256.5 M678.8,214.0 V242.9 M707.7,243.2 V275.3 M470.0,259.5 V289.0 M436.2,240.6 V264.2 M491.3,248.5 V269.0 M555.5,218.4 V242.8 M638.5,205.1 V232.4 M563.5,253.8 V274.8 M586.0,202.6 V226.1 M660.6,208.1 V244.5 M452.8,222.7 V248.9 M635.7,232.2 V251.8 M446.2,199.2 V230.8 M506.3,233.4 V258.1 M648.9,238.9 V267.2 M637.1,232.2 V257.8 M553.5,255.1 V274.5 M520.2,224.0 V257.2 M680.8,233.5 V263.0 M514.2,223.1 V261.9 M440.9,233.6 V250.6 M505.9,245.9 V275.5 M437.9,216.4 V242.7 M675.5,246.9 V273.4 M468.3,218.7 V251.6 M724.7,256.6 V278.8 M495.6,229.1 V254.8 M523.6,247.6 V267.5 M607.6,231.5 V261.0 M524.3,242.1 V268.6 M545.7,266.5 V284.4 M462.9,250.4 V272.4 M548.6,233.1 V258.7 M439.1,224.3 V252.9 M498.9,256.6 V275.6 M705.3,259.4 V290.0 M516.0,240.8 V275.7 M513.0,237.4 V261.7 M636.0,245.9 V264.3 M697.3,247.4 V267.5 M520.5,218.8 V252.5 M544.8,219.8 V248.5 M646.6,227.1 V247.0 M669.9,248.8 V269.4 M616.3,228.1 V263.5 M485.4,270.4 V302.3 M485.9,249.4 V281.7 M659.6,225.2 V245.2 M644.3,226.2 V265.0 M701.3,241.9 V264.4 M666.2,215.8 V240.6 M558.3,225.7 V247.8 M471.6,216.7 V254.4 M699.5,215.6 V246.5 M640.9,222.8 V251.9 M605.0,250.4 V276.4 M636.7,235.5 V268.3 M547.4,220.0 V247.3 M534.8,243.3 V270.4 M604.7,236.2 V256.4 M576.8,224.0 V259.1 M644.9,218.7 V237.1 M713.3,211.3 V248.2 M686.5,216.4 V253.6 M548.1,235.0 V263.5 M543.6,266.7 V287.2 M710.5,229.0 V250.7 M550.3,238.9 V258.9 M672.4,212.8 V245.2 M459.4,227.9 V252.8 M567.3,237.4 V276.0 M586.9,218.0 V242.4 M675.0,238.1 V262.3 M695.7,223.1 V255.0 M477.5,248.7 V285.0 M617.3,232.8 V261.4 M620.9,249.5 V269.1 M477.1,249.3 V269.9 M682.4,255.6 V288.3 M598.1,201.8 V235.6 M721.0,229.4 V268.2 M487.6,229.0 V258.5 M589.5,215.2 V249.4 M528.9,232.6 V264.4 M624.9,225.6 V254.7 M614.5,247.3 V282.1 M585.7,233.6 V255.0 M529.3,242.2 V262.4 M583.2,228.4 V252.2 M543.5,231.8 V257.2 M699.6,246.1 V284.0 M570.4,253.6 V288.7 M574.5,243.5 V276.9 M509.3,218.9 V255.5 M507.9,228.6 V254.0 M718.6,222.3 V260.9 M526.0,254.9 V291.9 M692.9,271.7 V292.7 M610.5,242.5 V267.7 M726.6,239.4 V263.1 M480.9,244.2 V265.4 M714.9,223.5 V261.1 M664.0,236.4 V261.9 M602.5,244.4 V280.5 M644.9,243.4 V273.5 M649.0,235.9 V254.2 M566.5,232.7 V259.2 M622.5,230.8 V265.0 M500.3,205.2 V229.2 M437.9,238.7 V262.1 M635.1,235.9 V254.9 M574.3,246.3 V273.7 M704.1,232.8 V270.5 M511.0,231.4 V248.7 M677.7,221.3 V257.8 M728.4,202.2 V232.4 M701.8,230.2 V253.3 M721.8,227.9 V264.6 M479.4,253.0 V290.4 M481.2,267.2 V305.6 M500.2,203.1 V230.2 M540.3,223.1 V249.1 M466.2,232.0 V263.5 M476.9,251.5 V288.1 M437.1,251.4 V276.1 M712.4,253.8 V278.1 M540.2,270.6 V296.5 M619.9,242.6 V259.9 M568.3,217.9 V253.3 M655.2,231.6 V258.6 M674.1,223.5 V250.7 M546.8,233.3 V264.2 M592.6,198.2 V233.0 M460.8,244.2 V276.7 M517.4,252.7 V277.0 M498.6,231.7 V255.1 M524.4,216.1 V240.4 M529.2,233.4 V262.1 M604.6,215.8 V250.6 M531.7,245.4 V262.5 M529.9,247.4 V277.7 M681.7,210.9 V246.4 M435.2,211.8 V241.1 M433.1,214.2 V239.5 M448.7,239.1 V266.4 M692.0,248.0 V276.3 M622.3,247.0 V277.7 M650.6,240.7 V259.2 M719.8,222.2 V256.6 M497.1,225.8 V254.9 M708.4,254.3 V277.3 M504.5,225.9 V263.0 M587.7,233.9 V259.6 M636.5,228.8 V262.8 M671.5,235.6 V259.0 M506.2,235.1 V264.2 M575.1,228.7 V249.8 M445.2,233.9 V256.8 M518.2,232.0 V256.1 M726.8,246.0 V266.1 M703.9,225.0 V258.7 M606.7,235.2 V262.0 M668.2,262.5 V287.0 M703.1,225.7 V255.6 M531.4,239.5 V261.5 M726.6,221.6 V248.1 M566.5,234.4 V263.8 M479.3,233.0 V263.5 M591.1,231.1 V257.3 M610.2,230.5 V263.8 M640.0,234.8 V270.9 M633.5,237.9 V276.1 M444.0,208.2 V237.5 M623.9,248.6 V286.8 M708.9,232.7 V270.3 M633.2,222.7 V254.1 M725.0,232.1 V252.0 M585.5,224.0 V255.1 M675.4,222.6 V251.2 M473.7,214.2 V246.6 M701.1,231.7 V254.5 M562.9,190.8 V229.7 M695.4,248.0 V272.6 M528.1,224.5 V263.5 M619.4,240.2 V263.2 M686.3,240.4 V267.9 M645.6,227.3 V259.2 M618.1,216.5 V239.2 M723.7,243.4 V269.3 M458.0,240.6 V272.1 M462.2,220.7 V254.3 M597.5,221.3 V258.4 M718.9,206.8 V235.9 M638.1,214.4 V252.6 M524.7,232.4 V255.6 M463.9,236.1 V266.5 M566.4,227.4 V261.0 M576.1,239.9 V258.7 M572.5,247.8 V282.1 M617.9,229.4 V264.4 M513.6,234.6 V264.0 M696.5,231.4 V268.7 M518.3,236.5 V268.8 M463.7,212.3 V237.3 M536.5,220.5 V255.2 M713.2,220.5 V248.9 M479.5,265.2 V297.2 M515.1,241.0 V279.8 M710.4,234.6 V266.9 M536.3,226.8 V260.8 M685.3,234.1 V269.0 M445.2,238.8 V260.1 M698.9,225.5 V243.3 M502.9,233.8 V252.4 M485.9,246.3 V273.5 " stroke="#00f" stroke-width="1.2" stroke-opacity="0.7"/><path d="M467.7,233.7 a2.45,2.45 0 1,0 4.9,0 a2.45,2.45 0 1,0 -4.9,0 M579.3,232.5 a2.45,2.45 0 1,0 4.9,0 a2.45,2.45 0 1,0 -4.9,0 M610.1,232.9 a2.45,2.45 0 1,0 4.9,0 a2.45,2.45 0 1,0 -4.9,0 M437.7,246.4 a2.45,2.45 0 1,0 4.9,0 a2.45,2.45 0 1,0 -4.9,0 M473.6,249.8 a2.45,2.45 0 1,0 4.9,0 a2.45,2.45 0 1,0 -4.9,0 M708.4,232.8 a2.45,2.45 0 1,0 4.9,0 a2.45,2.45 0 1,0 -4.9,0 M450.2,251.9 a2.45,2.45 0 1,0 4.9,0 a2.45,2.45 0 1,0 -4.9,0 M468.1,242.6 a2.45,2.45 0 1,0 4.9,0 a2.45,2.45 0 1,0 -4.9,0 M714.5,229.6 a2.45,2.45 0 1,0 4.9,0 a2.45,2.45 0 1,0 -4.9,0 M616.2,251.8 a2.45,2.45 0 1,0 4.9,0 a2.45,2.45 0 1,0 -4.9,0 M540.1,255.0 a2.45,2.45 0 1,0 4.9,0 a2.45,2.45 0 1,0 -4.9,0 M583.0,247.1 a2.45,2.45 0 1,0 4.9,0 a2.45,2.45 0 1,0 -4.9,0 M628.6,239.1 a2.45,2.45 0 1,0 4.9,0 a2.45,2.45 0 1,0 -4.9,0 M511.9,240.7 a2.45,2.45 0 1,0 4.9,0 a2.45,2.45 0 1,0 -4.9,0 M470.6,245.0 a2.45,2.45 0 1,0 4.9,0 a2.45,2.45 0 1,0 -4.9,0 M666.2,239.7 a2.45,2.45 0 1,0 4.9,0 a2.45,2.45 0 1,0 -4.9,0 M630.8,268.0 a2.45,2.45 0 1,0 4.9,0 a2.45,2.45 0 1,0 -4.9,0 M583.3,258.3 a2.45,2.45 0 1,0 4.9,0 a2.45,2.45 0 1,0 -4.9,0 M674.9,244.9 a2.45,2.45 0 1,0 4.9,0 a2.45,2.45 0 1,0 -4.9,0 M594.3,259.2 a2.45,2.45 0 1,0 4.9,0 a2.45,2.45 0 1,0 -4.9,0 M724.3,264.6 a2.45,2.45 0 1,0 4.9,0 a2.45,2.45 0 1,0 -4.9,0 M490.6,262.8 a2.45,2.45 0 1,0 4.9,0 a2.45,2.45 0 1,0 -4.9,0 M595.7,259.0 a2.45,2.45 0 1,0 4.9,0 a2.45,2.45 0 1,0 -4.9,0 M574.6,249.3 a2.45,2.45 0 1,0 4.9,0 a2.45,2.45 0 1,0 -4.9,0 M535.4,260.4 a2.45,2.45 0 1,0 4.9,0 a2.45,2.45 0 1,0 -4.9,0 M607.1,243.9 a2.45,2.45 0 1,0 4.9,0 a2.45,2.45 0 1,0 -4.9,0 M499.9,224.7 a2.45,2.45 0 1,0 4.9,0 a2.45,2.45 0 1,0 -4.9,0 M670.5,248.9 a2.45,2.45 0 1,0 4.9,0 a2.45,2.45 0 1,0 -4.9,0 M690.1,230.3 a2.45,2.45 0 1,0 4.9,0 a2.45,2.45 0 1,0 -4.9,0 M467.8,243.2 a2.45,2.45 0 1,0 4.9,0 a2.45,2.45 0 1,0 -4.9,0 M569.6,261.7 a2.45,2.45 0 1,0 4.9,0 a2.45,2.45 0 1,0 -4.9,0 M512.5,250.4 a2.45,2.45 0 1,0 4.9,0 a2.45,2.45 0 1,0 -4.9,0 M454.1,259.9 a2.45,2.45 0 1,0 4.9,0 a2.45,2.45 0 1,0 -4.9,0 M698.7,236.9 a2.45,2.45 0 1,0 4.9,0 a2.45,2.45 0 1,0 -4.9,0 M558.5,262.1 a2.45,2.45 0 1,0 4.9,0 a2.45,2.45 0 1,0 -4.9,0 M473.5,259.2 a2.45,2.45 0 1,0 4.9,0 a2.45,2.45 0 1,0 -4.9,0 M631.7,239.4 a2.45,2.45 0 1,0 4.9,0 a2.45,2.45 0 1,0 -4.9,0 M489.9,273.5 a2.45,2.45 0 1,0 4.9,0 a2.45,2.45 0 1,0 -4.9,0 M700.4,236.7 a2.45,2.45 0 1,0 4.9,0 a2.45,2.45 0 1,0 -4.9,0 M494.4,226.6 a2.45,2.45 0 1,0 4.9,0 a2.45,2.45 0 1,0 -4.9,0 M439.0,257.4 a2.45,2.45 0 1,0 4.9,0 a2.45,2.45 0 1,0 -4.9,0 M489.5,210.3 a2.45,2.45 0 1,0 4.9,0 a2.45,2.45 0 1,0 -4.9,0 M533.1,270.6 a2.45,2.45 0 1,0 4.9,0 a2.45,2.45 0 1,0 -4.9,0 M570.2,243.7 a2.45,2.45 0 1,0 4.9,0 a2.45,2.45 0 1,0 -4.9,0 M701.8,268.8 a2.45,2.45 0 1,0 4.9,0 a2.45,2.45 0 1,0 -4.9,0 M639.0,240.7 a2.45,2.45 0 1,0 4.9,0 a2.45,2.45 0 1,0 -4.9,0 M531.2,270.5 a2.45,2.45 0 1,0 4.9,0 a2.45,2.45 0 1,0 -4.9,0 M434.1,281.5 a2.45,2.45 0 1,0 4.9,0 a2.45,2.45 0 1,0 -4.9,0 M477.2,241.8 a2.45,2.45 0 1,0 4.9,0 a2.45,2.45 0 1,0 -4.9,0 M729.0,217.0 a2.45,2.45 0 1,0 4.9,0 a2.45,2.45 0 1,0 -4.9,0 M567.4,254.8 a2.45,2.45 0 1,0 4.9,0 a2.45,2.45 0 1,0 -4.9,0 M637.1,236.1 a2.45,2.45 0 1,0 4.9,0 a2.45,2.45 0 1,0 -4.9,0 M445.5,244.8 a2.45,2.45 0 1,0 4.9,0 a2.45,2.45 0 1,0 -4.9,0 M439.3,251.2 a2.45,2.45 0 1,0 4.9,0 a2.45,2.45 0 1,0 -4.9,0 M683.7,238.9 a2.45,2.45 0 1,0 4.9,0 a2.45,2.45 0 1,0 -4.9,0 M606.0,225.5 a2.45,2.45 0 1,0 4.9,0 a2.45,2.45 0 1,0 -4.9,0 M522.0,263.2 a2.45,2.45 0 1,0 4.9,0 a2.45,2.45 0 1,0 -4.9,0 M524.6,239.6 a2.45,2.45 0 1,0 4.9,0 a2.45,2.45 0 1,0 -4.9,0 M455.9,242.5 a2.45,2.45 0 1,0 4.9,0 a2.45,2.45 0 1,0 -4.9,0 M481.0,265.7 a2.45,2.45 0 1,0 4.9,0 a2.45,2.45 0 1,0 -4.9,0 M436.5,225.8 a2.45,2.45 0 1,0 4.9,0 a2.45,2.45 0 1,0 -4.9,0 M681.6,221.4 a2.45,2.45 0 1,0 4.9,0 a2.45,2.45 0 1,0 -4.9,0 M569.4,259.5 a2.45,2.45 0 1,0 4.9,0 a2.45,2.45 0 1,0 -4.9,0 M467.3,224.2 a2.45,2.45 0 1,0 4.9,0 a2.45,2.45 0 1,0 -4.9,0 M651.6,246.3 a2.45,2.45 0 1,0 4.9,0 a2.45,2.45 0 1,0 -4.9,0 M487.9,249.1 a2.45,2.45 0 1,0 4.9,0 a2.45,2.45 0 1,0 -4.9,0 M447.7,227.3 a2.45,2.45 0 1,0 4.9,0 a2.45,2.45 0 1,0 -4.9,0 M609.2,244.0 a2.45,2.45 0 1,0 4.9,0 a2.45,2.45 0 1,0 -4.9,0 M698.7,242.8 a2.45,2.45 0 1,0 4.9,0 a2.45,2.45 0 1,0 -4.9,0 M437.2,227.1 a2.45,2.45 0 1,0 4.9,0 a2.45,2.45 0 1,0 -4.9,0 M671.4,230.1 a2.45,2.45 0 1,0 4.9,0 a2.45,2.45 0 1,0 -4.9,0 M486.3,235.3 a2.45,2.45 0 1,0 4.9,0 a2.45,2.45 0 1,0 -4.9,0 M457.0,265.4 a2.45,2.45 0 1,0 4.9,0 a2.45,2.45 0 1,0 -4.9,0 M434.5,267.6 a2.45,2.45 0 1,0 4.9,0 a2.45,2.45 0 1,0 -4.9,0 M517.2,232.2 a2.45,2.45 0 1,0 4.9,0 a2.45,2.45 0 1,0 -4.9,0 M647.9,259.2 a2.45,2.45 0 1,0 4.9,0 a2.45,2.45 0 1,0 -4.9,0 M577.5,245.1 a2.45,2.45 0 1,0 4.9,0 a2.45,2.45 0 1,0 -4.9,0 M685.8,261.1 a2.45,2.45 0 1,0 4.9,0 a2.45,2.45 0 1,0 -4.9,0 M494.4,249.4 a2.45,2.45 0 1,0 4.9,0 a2.45,2.45 0 1,0 -4.9,0 M523.9,263.8 a2.45,2.45 0 1,0 4.9,0 a2.45,2.45 0 1,0 -4.9,0 M506.8,225.6 a2.45,2.45 0 1,0 4.9,0 a2.45,2.45 0 1,0 -4.9,0 M723.5,260.4 a2.45,2.45 0 1,0 4.9,0 a2.45,2.45 0 1,0 -4.9,0 M712.3,248.6 a2.45,2.45 0 1,0 4.9,0 a2.45,2.45 0 1,0 -4.9,0 M531.6,249.5 a2.45,2.45 0 1,0 4.9,0 a2.45,2.45 0 1,0 -4.9,0 M560.3,231.2 a2.45,2.45 0 1,0 4.9,0 a2.45,2.45 0 1,0 -4.9,0 M523.7,265.6 a2.45,2.45 0 1,0 4.9,0 a2.45,2.45 0 1,0 -4.9,0 M653.7,247.4 a2.45,2.45 0 1,0 4.9,0 a2.45,2.45 0 1,0 -4.9,0 M441.1,249.7 a2.45,2.45 0 1,0 4.9,0 a2.45,2.45 0 1,0 -4.9,0 M449.3,240.0 a2.45,2.45 0 1,0 4.9,0 a2.45,2.45 0 1,0 -4.9,0 M550.7,240.8 a2.45,2.45 0 1,0 4.9,0 a2.45,2.45 0 1,0 -4.9,0 M502.8,253.1 a2.45,2.45 0 1,0 4.9,0 a2.45,2.45 0 1,0 -4.9,0 M683.5,243.9 a2.45,2.45 0 1,0 4.9,0 a2.45,2.45 0 1,0 -4.9,0 M652.3,251.9 a2.45,2.45 0 1,0 4.9,0 a2.45,2.45 0 1,0 -4.9,0 M593.3,240.9 a2.45,2.45 0 1,0 4.9,0 a2.45,2.45 0 1,0 -4.9,0 M628.2,248.3 a2.45,2.45 0 1,0 4.9,0 a2.45,2.45 0 1,0 -4.9,0 M637.4,255.6 a2.45,2.45 0 1,0 4.9,0 a2.45,2.45 0 1,0 -4.9,0 M664.1,247.4 a2.45,2.45 0 1,0 4.9,0 a2.45,2.45 0 1,0 -4.9,0 M708.2,242.2 a2.45,2.45 0 1,0 4.9,0 a2.45,2.45 0 1,0 -4.9,0 M474.1,217.3 a2.45,2.45 0 1,0 4.9,0 a2.45,2.45 0 1,0 -4.9,0 M617.5,253.4 a2.45,2.45 0 1,0 4.9,0 a2.45,2.45 0 1,0 -4.9,0 M472.3,243.0 a2.45,2.45 0 1,0 4.9,0 a2.45,2.45 0 1,0 -4.9,0 M562.4,227.8 a2.45,2.45 0 1,0 4.9,0 a2.45,2.45 0 1,0 -4.9,0 M665.7,274.3 a2.45,2.45 0 1,0 4.9,0 a2.45,2.45 0 1,0 -4.9,0 M698.4,269.9 a2.45,2.45 0 1,0 4.9,0 a2.45,2.45 0 1,0 -4.9,0 M657.6,262.6 a2.45,2.45 0 1,0 4.9,0 a2.45,2.45 0 1,0 -4.9,0 M439.7,248.5 a2.45,2.45 0 1,0 4.9,0 a2.45,2.45 0 1,0 -4.9,0 M537.2,215.0 a2.45,2.45 0 1,0 4.9,0 a2.45,2.45 0 1,0 -4.9,0 M478.1,241.9 a2.45,2.45 0 1,0 4.9,0 a2.45,2.45 0 1,0 -4.9,0 M729.7,231.2 a2.45,2.45 0 1,0 4.9,0 a2.45,2.45 0 1,0 -4.9,0 M472.4,249.9 a2.45,2.45 0 1,0 4.9,0 a2.45,2.45 0 1,0 -4.9,0 M502.6,279.3 a2.45,2.45 0 1,0 4.9,0 a2.45,2.45 0 1,0 -4.9,0 M536.6,277.4 a2.45,2.45 0 1,0 4.9,0 a2.45,2.45 0 1,0 -4.9,0 M447.4,233.6 a2.45,2.45 0 1,0 4.9,0 a2.45,2.45 0 1,0 -4.9,0 M691.0,244.6 a2.45,2.45 0 1,0 4.9,0 a2.45,2.45 0 1,0 -4.9,0 M620.6,264.0 a2.45,2.45 0 1,0 4.9,0 a2.45,2.45 0 1,0 -4.9,0 M477.1,232.3 a2.45,2.45 0 1,0 4.9,0 a2.45,2.45 0 1,0 -4.9,0 M579.0,267.2 a2.45,2.45 0 1,0 4.9,0 a2.45,2.45 0 1,0 -4.9,0 M452.7,232.1 a2.45,2.45 0 1,0 4.9,0 a2.45,2.45 0 1,0 -4.9,0 M613.0,228.0 a2.45,2.45 0 1,0 4.9,0 a2.45,2.45 0 1,0 -4.9,0 M498.8,257.0 a2.45,2.45 0 1,0 4.9,0 a2.45,2.45 0 1,0 -4.9,0 M440.7,261.5 a2.45,2.45 0 1,0 4.9,0 a2.45,2.45 0 1,0 -4.9,0 M463.7,235.9 a2.45,2.45 0 1,0 4.9,0 a2.45,2.45 0 1,0 -4.9,0 M596.2,261.4 a2.45,2.45 0 1,0 4.9,0 a2.45,2.45 0 1,0 -4.9,0 M620.8,235.7 a2.45,2.45 0 1,0 4.9,0 a2.45,2.45 0 1,0 -4.9,0 M526.8,262.7 a2.45,2.45 0 1,0 4.9,0 a2.45,2.45 0 1,0 -4.9,0 M622.7,236.4 a2.45,2.45 0 1,0 4.9,0 a2.45,2.45 0 1,0 -4.9,0 M535.0,245.8 a2.45,2.45 0 1,0 4.9,0 a2.45,2.45 0 1,0 -4.9,0 M468.4,252.7 a2.45,2.45 0 1,0 4.9,0 a2.45,2.45 0 1,0 -4.9,0 M523.9,276.3 a2.45,2.45 0 1,0 4.9,0 a2.45,2.45 0 1,0 -4.9,0 M548.0,243.9 a2.45,2.45 0 1,0 4.9,0 a2.45,2.45 0 1,0 -4.9,0 M703.8,271.8 a2.45,2.45 0 1,0 4.9,0 a2.45,2.45 0 1,0 -4.9,0 M463.9,250.6 a2.45,2.45 0 1,0 4.9,0 a2.45,2.45 0 1,0 -4.9,0 M455.0,252.2 a2.45,2.45 0 1,0 4.9,0 a2.45,2.45 0 1,0 -4.9,0 M598.1,238.1 a2.45,2.45 0 1,0 4.9,0 a2.45,2.45 0 1,0 -4.9,0 M719.0,263.5 a2.45,2.45 0 1,0 4.9,0 a2.45,2.45 0 1,0 -4.9,0 M702.1,224.5 a2.45,2.45 0 1,0 4.9,0 a2.45,2.45 0 1,0 -4.9,0 M639.8,251.1 a2.45,2.45 0 1,0 4.9,0 a2.45,2.45 0 1,0 -4.9,0 M449.1,261.9 a2.45,2.45 0 1,0 4.9,0 a2.45,2.45 0 1,0 -4.9,0 M671.8,228.8 a2.45,2.45 0 1,0 4.9,0 a2.45,2.45 0 1,0 -4.9,0 M634.7,225.2 a2.45,2.45 0 1,0 4.9,0 a2.45,2.45 0 1,0 -4.9,0 M472.4,249.5 a2.45,2.45 0 1,0 4.9,0 a2.45,2.45 0 1,0 -4.9,0 M569.0,258.7 a2.45,2.45 0 1,0 4.9,0 a2.45,2.45 0 1,0 -4.9,0 M443.9,246.8 a2.45,2.45 0 1,0 4.9,0 a2.45,2.45 0 1,0 -4.9,0 M670.4,256.1 a2.45,2.45 0 1,0 4.9,0 a2.45,2.45 0 1,0 -4.9,0 M645.4,251.1 a2.45,2.45 0 1,0 4.9,0 a2.45,2.45 0 1,0 -4.9,0 M671.2,226.6 a2.45,2.45 0 1,0 4.9,0 a2.45,2.45 0 1,0 -4.9,0 M657.9,241.9 a2.45,2.45 0 1,0 4.9,0 a2.45,2.45 0 1,0 -4.9,0 M509.5,245.1 a2.45,2.45 0 1,0 4.9,0 a2.45,2.45 0 1,0 -4.9,0 M666.8,242.5 a2.45,2.45 0 1,0 4.9,0 a2.45,2.45 0 1,0 -4.9,0 M504.1,247.8 a2.45,2.45 0 1,0 4.9,0 a2.45,2.45 0 1,0 -4.9,0 M470.6,231.2 a2.45,2.45 0 1,0 4.9,0 a2.45,2.45 0 1,0 -4.9,0 M546.6,235.5 a2.45,2.45 0 1,0 4.9,0 a2.45,2.45 0 1,0 -4.9,0 M578.9,251.9 a2.45,2.45 0 1,0 4.9,0 a2.45,2.45 0 1,0 -4.9,0 M515.1,245.6 a2.45,2.45 0 1,0 4.9,0 a2.45,2.45 0 1,0 -4.9,0 M611.4,215.3 a2.45,2.45 0 1,0 4.9,0 a2.45,2.45 0 1,0 -4.9,0 M610.4,241.5 a2.45,2.45 0 1,0 4.9,0 a2.45,2.45 0 1,0 -4.9,0 M501.2,249.4 a2.45,2.45 0 1,0 4.9,0 a2.45,2.45 0 1,0 -4.9,0 M616.4,220.1 a2.45,2.45 0 1,0 4.9,0 a2.45,2.45 0 1,0 -4.9,0 M536.6,246.9 a2.45,2.45 0 1,0 4.9,0 a2.45,2.45 0 1,0 -4.9,0 M650.2,261.4 a2.45,2.45 0 1,0 4.9,0 a2.45,2.45 0 1,0 -4.9,0 M516.5,238.1 a2.45,2.45 0 1,0 4.9,0 a2.45,2.45 0 1,0 -4.9,0 M669.5,258.8 a2.45,2.45 0 1,0 4.9,0 a2.45,2.45 0 1,0 -4.9,0 M554.0,253.5 a2.45,2.45 0 1,0 4.9,0 a2.45,2.45 0 1,0 -4.9,0 M595.6,242.7 a2.45,2.45 0 1,0 4.9,0 a2.45,2.45 0 1,0 -4.9,0 M631.7,248.7 a2.45,2.45 0 1,0 4.9,0 a2.45,2.45 0 1,0 -4.9,0 M585.1,257.0 a2.45,2.45 0 1,0 4.9,0 a2.45,2.45 0 1,0 -4.9,0 M506.6,254.2 a2.45,2.45 0 1,0 4.9,0 a2.45,2.45 0 1,0 -4.9,0 M723.8,256.7 a2.45,2.45 0 1,0 4.9,0 a2.45,2.45 0 1,0 -4.9,0 M458.0,231.7 a2.45,2.45 0 1,0 4.9,0 a2.45,2.45 0 1,0 -4.9,0 M526.9,256.5 a2.45,2.45 0 1,0 4.9,0 a2.45,2.45 0 1,0 -4.9,0 M594.3,254.5 a2.45,2.45 0 1,0 4.9,0 a2.45,2.45 0 1,0 -4.9,0 M437.7,220.3 a2.45,2.45 0 1,0 4.9,0 a2.45,2.45 0 1,0 -4.9,0 M475.7,254.3 a2.45,2.45 0 1,0 4.9,0 a2.45,2.45 0 1,0 -4.9,0 M669.6,227.5 a2.45,2.45 0 1,0 4.9,0 a2.45,2.45 0 1,0 -4.9,0 M665.0,229.7 a2.45,2.45 0 1,0 4.9,0 a2.45,2.45 0 1,0 -4.9,0 M620.8,249.0 a2.45,2.45 0 1,0 4.9,0 a2.45,2.45 0 1,0 -4.9,0 M700.5,265.6 a2.45,2.45 0 1,0 4.9,0 a2.45,2.45 0 1,0 -4.9,0 M656.5,241.1 a2.45,2.45 0 1,0 4.9,0 a2.45,2.45 0 1,0 -4.9,0 M519.0,238.2 a2.45,2.45 0 1,0 4.9,0 a2.45,2.45 0 1,0 -4.9,0 M623.2,234.3 a2.45,2.45 0 1,0 4.9,0 a2.45,2.45 0 1,0 -4.9,0 M531.4,246.1 a2.45,2.45 0 1,0 4.9,0 a2.45,2.45 0 1,0 -4.9,0 M654.8,231.2 a2.45,2.45 0 1,0 4.9,0 a2.45,2.45 0 1,0 -4.9,0 M544.9,228.8 a2.45,2.45 0 1,0 4.9,0 a2.45,2.45 0 1,0 -4.9,0 M475.2,260.8 a2.45,2.45 0 1,0 4.9,0 a2.45,2.45 0 1,0 -4.9,0 M692.9,228.2 a2.45,2.45 0 1,0 4.9,0 a2.45,2.45 0 1,0 -4.9,0 M636.9,234.9 a2.45,2.45 0 1,0 4.9,0 a2.45,2.45 0 1,0 -4.9,0 M653.2,254.4 a2.45,2.45 0 1,0 4.9,0 a2.45,2.45 0 1,0 -4.9,0 M597.5,251.2 a2.45,2.45 0 1,0 4.9,0 a2.45,2.45 0 1,0 -4.9,0 M664.7,222.4 a2.45,2.45 0 1,0 4.9,0 a2.45,2.45 0 1,0 -4.9,0 M563.9,234.1 a2.45,2.45 0 1,0 4.9,0 a2.45,2.45 0 1,0 -4.9,0 M599.4,270.5 a2.45,2.45 0 1,0 4.9,0 a2.45,2.45 0 1,0 -4.9,0 M447.9,245.9 a2.45,2.45 0 1,0 4.9,0 a2.45,2.45 0 1,0 -4.9,0 M596.1,248.8 a2.45,2.45 0 1,0 4.9,0 a2.45,2.45 0 1,0 -4.9,0 M674.2,249.3 a2.45,2.45 0 1,0 4.9,0 a2.45,2.45 0 1,0 -4.9,0 M641.4,253.7 a2.45,2.45 0 1,0 4.9,0 a2.45,2.45 0 1,0 -4.9,0 M670.8,266.1 a2.45,2.45 0 1,0 4.9,0 a2.45,2.45 0 1,0 -4.9,0 M578.4,235.7 a2.45,2.45 0 1,0 4.9,0 a2.45,2.45 0 1,0 -4.9,0 M694.3,259.3 a2.45,2.45 0 1,0 4.9,0 a2.45,2.45 0 1,0 -4.9,0 M461.6,251.9 a2.45,2.45 0 1,0 4.9,0 a2.45,2.45 0 1,0 -4.9,0 M692.6,254.9 a2.45,2.45 0 1,0 4.9,0 a2.45,2.45 0 1,0 -4.9,0 M540.8,256.5 a2.45,2.45 0 1,0 4.9,0 a2.45,2.45 0 1,0 -4.9,0 M456.4,237.2 a2.45,2.45 0 1,0 4.9,0 a2.45,2.45 0 1,0 -4.9,0 M615.5,242.0 a2.45,2.45 0 1,0 4.9,0 a2.45,2.45 0 1,0 -4.9,0 M566.0,255.8 a2.45,2.45 0 1,0 4.9,0 a2.45,2.45 0 1,0 -4.9,0 M558.0,259.4 a2.45,2.45 0 1,0 4.9,0 a2.45,2.45 0 1,0 -4.9,0 M685.5,253.2 a2.45,2.45 0 1,0 4.9,0 a2.45,2.45 0 1,0 -4.9,0 M470.5,234.3 a2.45,2.45 0 1,0 4.9,0 a2.45,2.45 0 1,0 -4.9,0 M614.7,245.3 a2.45,2.45 0 1,0 4.9,0 a2.45,2.45 0 1,0 -4.9,0 M553.6,243.9 a2.45,2.45 0 1,0 4.9,0 a2.45,2.45 0 1,0 -4.9,0 M588.1,251.3 a2.45,2.45 0 1,0 4.9,0 a2.45,2.45 0 1,0 -4.9,0 M579.4,250.4 a2.45,2.45 0 1,0 4.9,0 a2.45,2.45 0 1,0 -4.9,0 M469.4,244.2 a2.45,2.45 0 1,0 4.9,0 a2.45,2.45 0 1,0 -4.9,0 M583.2,271.2 a2.45,2.45 0 1,0 4.9,0 a2.45,2.45 0 1,0 -4.9,0 M688.5,225.8 a2.45,2.45 0 1,0 4.9,0 a2.45,2.45 0 1,0 -4.9,0 M480.6,257.3 a2.45,2.45 0 1,0 4.9,0 a2.45,2.45 0 1,0 -4.9,0 M432.5,254.5 a2.45,2.45 0 1,0 4.9,0 a2.45,2.45 0 1,0 -4.9,0 M449.4,229.4 a2.45,2.45 0 1,0 4.9,0 a2.45,2.45 0 1,0 -4.9,0 M567.4,244.1 a2.45,2.45 0 1,0 4.9,0 a2.45,2.45 0 1,0 -4.9,0 M722.4,246.4 a2.45,2.45 0 1,0 4.9,0 a2.45,2.45 0 1,0 -4.9,0 M442.4,254.7 a2.45,2.45 0 1,0 4.9,0 a2.45,2.45 0 1,0 -4.9,0 M727.3,267.5 a2.45,2.45 0 1,0 4.9,0 a2.45,2.45 0 1,0 -4.9,0 M590.4,244.6 a2.45,2.45 0 1,0 4.9,0 a2.45,2.45 0 1,0 -4.9,0 M465.2,231.3 a2.45,2.45 0 1,0 4.9,0 a2.45,2.45 0 1,0 -4.9,0 M555.0,258.8 a2.45,2.45 0 1,0 4.9,0 a2.45,2.45 0 1,0 -4.9,0 M491.5,229.1 a2.45,2.45 0 1,0 4.9,0 a2.45,2.45 0 1,0 -4.9,0 M644.0,261.8 a2.45,2.45 0 1,0 4.9,0 a2.45,2.45 0 1,0 -4.9,0 M592.0,256.6 a2.45,2.45 0 1,0 4.9,0 a2.45,2.45 0 1,0 -4.9,0 M515.7,240.4 a2.45,2.45 0 1,0 4.9,0 a2.45,2.45 0 1,0 -4.9,0 M505.9,247.0 a2.45,2.45 0 1,0 4.9,0 a2.45,2.45 0 1,0 -4.9,0 M690.0,237.9 a2.45,2.45 0 1,0 4.9,0 a2.45,2.45 0 1,0 -4.9,0 M659.7,256.7 a2.45,2.45 0 1,0 4.9,0 a2.45,2.45 0 1,0 -4.9,0 M560.3,260.5 a2.45,2.45 0 1,0 4.9,0 a2.45,2.45 0 1,0 -4.9,0 M551.1,271.5 a2.45,2.45 0 1,0 4.9,0 a2.45,2.45 0 1,0 -4.9,0 M651.0,262.8 a2.45,2.45 0 1,0 4.9,0 a2.45,2.45 0 1,0 -4.9,0 M721.2,261.1 a2.45,2.45 0 1,0 4.9,0 a2.45,2.45 0 1,0 -4.9,0 M453.0,265.7 a2.45,2.45 0 1,0 4.9,0 a2.45,2.45 0 1,0 -4.9,0 M476.9,243.0 a2.45,2.45 0 1,0 4.9,0 a2.45,2.45 0 1,0 -4.9,0 M538.1,255.7 a2.45,2.45 0 1,0 4.9,0 a2.45,2.45 0 1,0 -4.9,0 M581.9,273.1 a2.45,2.45 0 1,0 4.9,0 a2.45,2.45 0 1,0 -4.9,0 M450.5,214.4 a2.45,2.45 0 1,0 4.9,0 a2.45,2.45 0 1,0 -4.9,0 M445.2,258.0 a2.45,2.45 0 1,0 4.9,0 a2.45,2.45 0 1,0 -4.9,0 M495.1,263.5 a2.45,2.45 0 1,0 4.9,0 a2.45,2.45 0 1,0 -4.9,0 M545.2,242.5 a2.45,2.45 0 1,0 4.9,0 a2.45,2.45 0 1,0 -4.9,0 M651.6,231.7 a2.45,2.45 0 1,0 4.9,0 a2.45,2.45 0 1,0 -4.9,0 M612.6,262.1 a2.45,2.45 0 1,0 4.9,0 a2.45,2.45 0 1,0 -4.9,0 M437.8,266.3 a2.45,2.45 0 1,0 4.9,0 a2.45,2.45 0 1,0 -4.9,0 M442.6,260.1 a2.45,2.45 0 1,0 4.9,0 a2.45,2.45 0 1,0 -4.9,0 M565.1,232.2 a2.45,2.45 0 1,0 4.9,0 a2.45,2.45 0 1,0 -4.9,0 M692.4,251.1 a2.45,2.45 0 1,0 4.9,0 a2.45,2.45 0 1,0 -4.9,0 M704.5,257.6 a2.45,2.45 0 1,0 4.9,0 a2.45,2.45 0 1,0 -4.9,0 M538.9,247.4 a2.45,2.45 0 1,0 4.9,0 a2.45,2.45 0 1,0 -4.9,0 M696.1,231.2 a2.45,2.45 0 1,0 4.9,0 a2.45,2.45 0 1,0 -4.9,0 M708.7,265.2 a2.45,2.45 0 1,0 4.9,0 a2.45,2.45 0 1,0 -4.9,0 M551.4,252.0 a2.45,2.45 0 1,0 4.9,0 a2.45,2.45 0 1,0 -4.9,0 M653.6,265.2 a2.45,2.45 0 1,0 4.9,0 a2.45,2.45 0 1,0 -4.9,0 M539.0,245.4 a2.45,2.45 0 1,0 4.9,0 a2.45,2.45 0 1,0 -4.9,0 M475.3,223.1 a2.45,2.45 0 1,0 4.9,0 a2.45,2.45 0 1,0 -4.9,0 M602.2,234.5 a2.45,2.45 0 1,0 4.9,0 a2.45,2.45 0 1,0 -4.9,0 M455.1,248.8 a2.45,2.45 0 1,0 4.9,0 a2.45,2.45 0 1,0 -4.9,0 M628.7,238.4 a2.45,2.45 0 1,0 4.9,0 a2.45,2.45 0 1,0 -4.9,0 M672.6,274.6 a2.45,2.45 0 1,0 4.9,0 a2.45,2.45 0 1,0 -4.9,0 M704.6,243.4 a2.45,2.45 0 1,0 4.9,0 a2.45,2.45 0 1,0 -4.9,0 M563.9,264.5 a2.45,2.45 0 1,0 4.9,0 a2.45,2.45 0 1,0 -4.9,0 M464.4,264.4 a2.45,2.45 0 1,0 4.9,0 a2.45,2.45 0 1,0 -4.9,0 M700.7,256.2 a2.45,2.45 0 1,0 4.9,0 a2.45,2.45 0 1,0 -4.9,0 M691.0,251.6 a2.45,2.45 0 1,0 4.9,0 a2.45,2.45 0 1,0 -4.9,0 M720.3,239.5 a2.45,2.45 0 1,0 4.9,0 a2.45,2.45 0 1,0 -4.9,0 M607.8,237.8 a2.45,2.45 0 1,0 4.9,0 a2.45,2.45 0 1,0 -4.9,0 M631.7,243.6 a2.45,2.45 0 1,0 4.9,0 a2.45,2.45 0 1,0 -4.9,0 M541.4,259.4 a2.45,2.45 0 1,0 4.9,0 a2.45,2.45 0 1,0 -4.9,0 M484.2,238.1 a2.45,2.45 0 1,0 4.9,0 a2.45,2.45 0 1,0 -4.9,0 M516.9,248.6 a2.45,2.45 0 1,0 4.9,0 a2.45,2.45 0 1,0 -4.9,0 M646.0,231.5 a2.45,2.45 0 1,0 4.9,0 a2.45,2.45 0 1,0 -4.9,0 M526.9,259.0 a2.45,2.45 0 1,0 4.9,0 a2.45,2.45 0 1,0 -4.9,0 M637.2,283.3 a2.45,2.45 0 1,0 4.9,0 a2.45,2.45 0 1,0 -4.9,0 M580.2,253.3 a2.45,2.45 0 1,0 4.9,0 a2.45,2.45 0 1,0 -4.9,0 M564.2,268.6 a2.45,2.45 0 1,0 4.9,0 a2.45,2.45 0 1,0 -4.9,0 M720.3,240.8 a2.45,2.45 0 1,0 4.9,0 a2.45,2.45 0 1,0 -4.9,0 M479.0,249.5 a2.45,2.45 0 1,0 4.9,0 a2.45,2.45 0 1,0 -4.9,0 M575.7,235.4 a2.45,2.45 0 1,0 4.9,0 a2.45,2.45 0 1,0 -4.9,0 M477.1,240.4 a2.45,2.45 0 1,0 4.9,0 a2.45,2.45 0 1,0 -4.9,0 M711.2,240.9 a2.45,2.45 0 1,0 4.9,0 a2.45,2.45 0 1,0 -4.9,0 M576.1,253.7 a2.45,2.45 0 1,0 4.9,0 a2.45,2.45 0 1,0 -4.9,0 M529.0,246.0 a2.45,2.45 0 1,0 4.9,0 a2.45,2.45 0 1,0 -4.9,0 M479.7,244.4 a2.45,2.45 0 1,0 4.9,0 a2.45,2.45 0 1,0 -4.9,0 M607.9,255.4 a2.45,2.45 0 1,0 4.9,0 a2.45,2.45 0 1,0 -4.9,0 M549.1,261.7 a2.45,2.45 0 1,0 4.9,0 a2.45,2.45 0 1,0 -4.9,0 M467.3,245.2 a2.45,2.45 0 1,0 4.9,0 a2.45,2.45 0 1,0 -4.9,0 M438.8,234.3 a2.45,2.45 0 1,0 4.9,0 a2.45,2.45 0 1,0 -4.9,0 M546.8,281.9 a2.45,2.45 0 1,0 4.9,0 a2.45,2.45 0 1,0 -4.9,0 M604.6,240.5 a2.45,2.45 0 1,0 4.9,0 a2.45,2.45 0 1,0 -4.9,0 M585.2,240.4 a2.45,2.45 0 1,0 4.9,0 a2.45,2.45 0 1,0 -4.9,0 M700.0,213.1 a2.45,2.45 0 1,0 4.9,0 a2.45,2.45 0 1,0 -4.9,0 M703.4,243.6 a2.45,2.45 0 1,0 4.9,0 a2.45,2.45 0 1,0 -4.9,0 M710.9,233.3 a2.45,2.45 0 1,0 4.9,0 a2.45,2.45 0 1,0 -4.9,0 M669.8,221.3 a2.45,2.45 0 1,0 4.9,0 a2.45,2.45 0 1,0 -4.9,0 M572.8,246.3 a2.45,2.45 0 1,0 4.9,0 a2.45,2.45 0 1,0 -4.9,0 M586.7,243.5 a2.45,2.45 0 1,0 4.9,0 a2.45,2.45 0 1,0 -4.9,0 M548.6,226.7 a2.45,2.45 0 1,0 4.9,0 a2.45,2.45 0 1,0 -4.9,0 M549.3,224.9 a2.45,2.45 0 1,0 4.9,0 a2.45,2.45 0 1,0 -4.9,0 M441.6,242.9 a2.45,2.45 0 1,0 4.9,0 a2.45,2.45 0 1,0 -4.9,0 M669.5,242.2 a2.45,2.45 0 1,0 4.9,0 a2.45,2.45 0 1,0 -4.9,0 M503.1,245.8 a2.45,2.45 0 1,0 4.9,0 a2.45,2.45 0 1,0 -4.9,0 M437.9,262.8 a2.45,2.45 0 1,0 4.9,0 a2.45,2.45 0 1,0 -4.9,0 M569.5,251.4 a2.45,2.45 0 1,0 4.9,0 a2.45,2.45 0 1,0 -4.9,0 M645.1,242.1 a2.45,2.45 0 1,0 4.9,0 a2.45,2.45 0 1,0 -4.9,0 M560.3,269.6 a2.45,2.45 0 1,0 4.9,0 a2.45,2.45 0 1,0 -4.9,0 M538.7,248.9 a2.45,2.45 0 1,0 4.9,0 a2.45,2.45 0 1,0 -4.9,0 M627.3,269.7 a2.45,2.45 0 1,0 4.9,0 a2.45,2.45 0 1,0 -4.9,0 M478.1,260.2 a2.45,2.45 0 1,0 4.9,0 a2.45,2.45 0 1,0 -4.9,0 M432.5,246.7 a2.45,2.45 0 1,0 4.9,0 a2.45,2.45 0 1,0 -4.9,0 M607.4,259.0 a2.45,2.45 0 1,0 4.9,0 a2.45,2.45 0 1,0 -4.9,0 M588.7,232.9 a2.45,2.45 0 1,0 4.9,0 a2.45,2.45 0 1,0 -4.9,0 M689.7,266.2 a2.45,2.45 0 1,0 4.9,0 a2.45,2.45 0 1,0 -4.9,0 M554.2,243.5 a2.45,2.45 0 1,0 4.9,0 a2.45,2.45 0 1,0 -4.9,0 M665.7,239.6 a2.45,2.45 0 1,0 4.9,0 a2.45,2.45 0 1,0 -4.9,0 M434.4,227.7 a2.45,2.45 0 1,0 4.9,0 a2.45,2.45 0 1,0 -4.9,0 M437.3,234.8 a2.45,2.45 0 1,0 4.9,0 a2.45,2.45 0 1,0 -4.9,0 M609.2,243.8 a2.45,2.45 0 1,0 4.9,0 a2.45,2.45 0 1,0 -4.9,0 M497.1,245.8 a2.45,2.45 0 1,0 4.9,0 a2.45,2.45 0 1,0 -4.9,0 M449.3,247.7 a2.45,2.45 0 1,0 4.9,0 a2.45,2.45 0 1,0 -4.9,0 M467.5,231.9 a2.45,2.45 0 1,0 4.9,0 a2.45,2.45 0 1,0 -4.9,0 M541.8,255.5 a2.45,2.45 0 1,0 4.9,0 a2.45,2.45 0 1,0 -4.9,0 M530.5,240.0 a2.45,2.45 0 1,0 4.9,0 a2.45,2.45 0 1,0 -4.9,0 M598.8,248.1 a2.45,2.45 0 1,0 4.9,0 a2.45,2.45 0 1,0 -4.9,0 M696.2,243.7 a2.45,2.45 0 1,0 4.9,0 a2.45,2.45 0 1,0 -4.9,0 M539.1,250.3 a2.45,2.45 0 1,0 4.9,0 a2.45,2.45 0 1,0 -4.9,0 M484.5,218.9 a2.45,2.45 0 1,0 4.9,0 a2.45,2.45 0 1,0 -4.9,0 M603.0,255.5 a2.45,2.45 0 1,0 4.9,0 a2.45,2.45 0 1,0 -4.9,0 M429.7,243.5 a2.45,2.45 0 1,0 4.9,0 a2.45,2.45 0 1,0 -4.9,0 M544.9,243.2 a2.45,2.45 0 1,0 4.9,0 a2.45,2.45 0 1,0 -4.9,0 M524.5,238.9 a2.45,2.45 0 1,0 4.9,0 a2.45,2.45 0 1,0 -4.9,0 M545.7,240.9 a2.45,2.45 0 1,0 4.9,0 a2.45,2.45 0 1,0 -4.9,0 M444.3,241.3 a2.45,2.45 0 1,0 4.9,0 a2.45,2.45 0 1,0 -4.9,0 M595.9,234.0 a2.45,2.45 0 1,0 4.9,0 a2.45,2.45 0 1,0 -4.9,0 M616.9,266.6 a2.45,2.45 0 1,0 4.9,0 a2.45,2.45 0 1,0 -4.9,0 M654.6,246.7 a2.45,2.45 0 1,0 4.9,0 a2.45,2.45 0 1,0 -4.9,0 M717.2,263.0 a2.45,2.45 0 1,0 4.9,0 a2.45,2.45 0 1,0 -4.9,0 M535.8,243.8 a2.45,2.45 0 1,0 4.9,0 a2.45,2.45 0 1,0 -4.9,0 M626.6,262.4 a2.45,2.45 0 1,0 4.9,0 a2.45,2.45 0 1,0 -4.9,0 M562.1,259.4 a2.45,2.45 0 1,0 4.9,0 a2.45,2.45 0 1,0 -4.9,0 M493.8,247.6 a2.45,2.45 0 1,0 4.9,0 a2.45,2.45 0 1,0 -4.9,0 M696.7,228.5 a2.45,2.45 0 1,0 4.9,0 a2.45,2.45 0 1,0 -4.9,0 M653.6,239.3 a2.45,2.45 0 1,0 4.9,0 a2.45,2.45 0 1,0 -4.9,0 M712.8,242.9 a2.45,2.45 0 1,0 4.9,0 a2.45,2.45 0 1,0 -4.9,0 M676.3,228.4 a2.45,2.45 0 1,0 4.9,0 a2.45,2.45 0 1,0 -4.9,0 M705.2,259.2 a2.45,2.45 0 1,0 4.9,0 a2.45,2.45 0 1,0 -4.9,0 M467.6,274.3 a2.45,2.45 0 1,0 4.9,0 a2.45,2.45 0 1,0 -4.9,0 M433.8,252.4 a2.45,2.45 0 1,0 4.9,0 a2.45,2.45 0 1,0 -4.9,0 M488.8,258.8 a2.45,2.45 0 1,0 4.9,0 a2.45,2.45 0 1,0 -4.9,0 M553.1,230.6 a2.45,2.45 0 1,0 4.9,0 a2.45,2.45 0 1,0 -4.9,0 M636.0,218.8 a2.45,2.45 0 1,0 4.9,0 a2.45,2.45 0 1,0 -4.9,0 M561.0,264.3 a2.45,2.45 0 1,0 4.9,0 a2.45,2.45 0 1,0 -4.9,0 M583.6,214.3 a2.45,2.45 0 1,0 4.9,0 a2.45,2.45 0 1,0 -4.9,0 M658.1,226.3 a2.45,2.45 0 1,0 4.9,0 a2.45,2.45 0 1,0 -4.9,0 M450.3,235.8 a2.45,2.45 0 1,0 4.9,0 a2.45,2.45 0 1,0 -4.9,0 M633.2,242.0 a2.45,2.45 0 1,0 4.9,0 a2.45,2.45 0 1,0 -4.9,0 M443.7,215.0 a2.45,2.45 0 1,0 4.9,0 a2.45,2.45 0 1,0 -4.9,0 M503.9,245.8 a2.45,2.45 0 1,0 4.9,0 a2.45,2.45 0 1,0 -4.9,0 M646.5,253.0 a2.45,2.45 0 1,0 4.9,0 a2.45,2.45 0 1,0 -4.9,0 M634.7,245.0 a2.45,2.45 0 1,0 4.9,0 a2.45,2.45 0 1,0 -4.9,0 M551.0,264.8 a2.45,2.45 0 1,0 4.9,0 a2.45,2.45 0 1,0 -4.9,0 M517.7,240.6 a2.45,2.45 0 1,0 4.9,0 a2.45,2.45 0 1,0 -4.9,0 M678.3,248.3 a2.45,2.45 0 1,0 4.9,0 a2.45,2.45 0 1,0 -4.9,0 M511.8,242.5 a2.45,2.45 0 1,0 4.9,0 a2.45,2.45 0 1,0 -4.9,0 M438.4,242.1 a2.45,2.45 0 1,0 4.9,0 a2.45,2.45 0 1,0 -4.9,0 M503.5,260.7 a2.45,2.45 0 1,0 4.9,0 a2.45,2.45 0 1,0 -4.9,0 M435.4,229.5 a2.45,2.45 0 1,0 4.9,0 a2.45,2.45 0 1,0 -4.9,0 M673.1,260.1 a2.45,2.45 0 1,0 4.9,0 a2.45,2.45 0 1,0 -4.9,0 M465.9,235.2 a2.45,2.45 0 1,0 4.9,0 a2.45,2.45 0 1,0 -4.9,0 M722.2,267.7 a2.45,2.45 0 1,0 4.9,0 a2.45,2.45 0 1,0 -4.9,0 M493.2,241.9 a2.45,2.45 0 1,0 4.9,0 a2.45,2.45 0 1,0 -4.9,0 M521.2,257.6 a2.45,2.45 0 1,0 4.9,0 a2.45,2.45 0 1,0 -4.9,0 M605.2,246.2 a2.45,2.45 0 1,0 4.9,0 a2.45,2.45 0 1,0 -4.9,0 M521.8,255.4 a2.45,2.45 0 1,0 4.9,0 a2.45,2.45 0 1,0 -4.9,0 M543.2,275.5 a2.45,2.45 0 1,0 4.9,0 a2.45,2.45 0 1,0 -4.9,0 M460.4,261.4 a2.45,2.45 0 1,0 4.9,0 a2.45,2.45 0 1,0 -4.9,0 M546.2,245.9 a2.45,2.45 0 1,0 4.9,0 a2.45,2.45 0 1,0 -4.9,0 M436.6,238.6 a2.45,2.45 0 1,0 4.9,0 a2.45,2.45 0 1,0 -4.9,0 M496.5,266.1 a2.45,2.45 0 1,0 4.9,0 a2.45,2.45 0 1,0 -4.9,0 M702.8,274.7 a2.45,2.45 0 1,0 4.9,0 a2.45,2.45 0 1,0 -4.9,0 M513.6,258.2 a2.45,2.45 0 1,0 4.9,0 a2.45,2.45 0 1,0 -4.9,0 M510.6,249.6 a2.45,2.45 0 1,0 4.9,0 a2.45,2.45 0 1,0 -4.9,0 M633.5,255.1 a2.45,2.45 0 1,0 4.9,0 a2.45,2.45 0 1,0 -4.9,0 M694.8,257.4 a2.45,2.45 0 1,0 4.9,0 a2.45,2.45 0 1,0 -4.9,0 M518.1,235.6 a2.45,2.45 0 1,0 4.9,0 a2.45,2.45 0 1,0 -4.9,0 M542.3,234.1 a2.45,2.45 0 1,0 4.9,0 a2.45,2.45 0 1,0 -4.9,0 M644.2,237.1 a2.45,2.45 0 1,0 4.9,0 a2.45,2.45 0 1,0 -4.9,0 M667.5,259.1 a2.45,2.45 0 1,0 4.9,0 a2.45,2.45 0 1,0 -4.9,0 M613.8,245.8 a2.45,2.45 0 1,0 4.9,0 a2.45,2.45 0 1,0 -4.9,0 M482.9,286.4 a2.45,2.45 0 1,0 4.9,0 a2.45,2.45 0 1,0 -4.9,0 M483.5,265.5 a2.45,2.45 0 1,0 4.9,0 a2.45,2.45 0 1,0 -4.9,0 M657.2,235.2 a2.45,2.45 0 1,0 4.9,0 a2.45,2.45 0 1,0 -4.9,0 M641.8,245.6 a2.45,2.45 0 1,0 4.9,0 a2.45,2.45 0 1,0 -4.9,0 M698.8,253.2 a2.45,2.45 0 1,0 4.9,0 a2.45,2.45 0 1,0 -4.9,0 M663.8,228.2 a2.45,2.45 0 1,0 4.9,0 a2.45,2.45 0 1,0 -4.9,0 M555.8,236.8 a2.45,2.45 0 1,0 4.9,0 a2.45,2.45 0 1,0 -4.9,0 M469.2,235.6 a2.45,2.45 0 1,0 4.9,0 a2.45,2.45 0 1,0 -4.9,0 M697.1,231.1 a2.45,2.45 0 1,0 4.9,0 a2.45,2.45 0 1,0 -4.9,0 M638.4,237.4 a2.45,2.45 0 1,0 4.9,0 a2.45,2.45 0 1,0 -4.9,0 M602.5,263.4 a2.45,2.45 0 1,0 4.9,0 a2.45,2.45 0 1,0 -4.9,0 M634.3,251.9 a2.45,2.45 0 1,0 4.9,0 a2.45,2.45 0 1,0 -4.9,0 M545.0,233.6 a2.45,2.45 0 1,0 4.9,0 a2.45,2.45 0 1,0 -4.9,0 M532.4,256.9 a2.45,2.45 0 1,0 4.9,0 a2.45,2.45 0 1,0 -4.9,0 M602.3,246.3 a2.45,2.45 0 1,0 4.9,0 a2.45,2.45 0 1,0 -4.9,0 M574.4,241.6 a2.45,2.45 0 1,0 4.9,0 a2.45,2.45 0 1,0 -4.9,0 M642.4,227.9 a2.45,2.45 0 1,0 4.9,0 a2.45,2.45 0 1,0 -4.9,0 M710.8,229.8 a2.45,2.45 0 1,0 4.9,0 a2.45,2.45 0 1,0 -4.9,0 M684.1,235.0 a2.45,2.45 0 1,0 4.9,0 a2.45,2.45 0 1,0 -4.9,0 M545.7,249.3 a2.45,2.45 0 1,0 4.9,0 a2.45,2.45 0 1,0 -4.9,0 M541.2,276.9 a2.45,2.45 0 1,0 4.9,0 a2.45,2.45 0 1,0 -4.9,0 M708.0,239.9 a2.45,2.45 0 1,0 4.9,0 a2.45,2.45 0 1,0 -4.9,0 M547.8,248.9 a2.45,2.45 0 1,0 4.9,0 a2.45,2.45 0 1,0 -4.9,0 M669.9,229.0 a2.45,2.45 0 1,0 4.9,0 a2.45,2.45 0 1,0 -4.9,0 M457.0,240.3 a2.45,2.45 0 1,0 4.9,0 a2.45,2.45 0 1,0 -4.9,0 M564.8,256.7 a2.45,2.45 0 1,0 4.9,0 a2.45,2.45 0 1,0 -4.9,0 M584.4,230.2 a2.45,2.45 0 1,0 4.9,0 a2.45,2.45 0 1,0 -4.9,0 M672.5,250.2 a2.45,2.45 0 1,0 4.9,0 a2.45,2.45 0 1,0 -4.9,0 M693.2,239.0 a2.45,2.45 0 1,0 4.9,0 a2.45,2.45 0 1,0 -4.9,0 M475.0,266.8 a2.45,2.45 0 1,0 4.9,0 a2.45,2.45 0 1,0 -4.9,0 M614.8,247.1 a2.45,2.45 0 1,0 4.9,0 a2.45,2.45 0 1,0 -4.9,0 M618.4,259.3 a2.45,2.45 0 1,0 4.9,0 a2.45,2.45 0 1,0 -4.9,0 M474.7,259.6 a2.45,2.45 0 1,0 4.9,0 a2.45,2.45 0 1,0 -4.9,0 M680.0,271.9 a2.45,2.45 0 1,0 4.9,0 a2.45,2.45 0 1,0 -4.9,0 M595.6,218.7 a2.45,2.45 0 1,0 4.9,0 a2.45,2.45 0 1,0 -4.9,0 M718.5,248.8 a2.45,2.45 0 1,0 4.9,0 a2.45,2.45 0 1,0 -4.9,0 M485.1,243.7 a2.45,2.45 0 1,0 4.9,0 a2.45,2.45 0 1,0 -4.9,0 M587.1,232.3 a2.45,2.45 0 1,0 4.9,0 a2.45,2.45 0 1,0 -4.9,0 M526.4,248.5 a2.45,2.45 0 1,0 4.9,0 a2.45,2.45 0 1,0 -4.9,0 M622.4,240.1 a2.45,2.45 0 1,0 4.9,0 a2.45,2.45 0 1,0 -4.9,0 M612.1,264.7 a2.45,2.45 0 1,0 4.9,0 a2.45,2.45 0 1,0 -4.9,0 M583.3,244.3 a2.45,2.45 0 1,0 4.9,0 a2.45,2.45 0 1,0 -4.9,0 M526.8,252.3 a2.45,2.45 0 1,0 4.9,0 a2.45,2.45 0 1,0 -4.9,0 M580.7,240.3 a2.45,2.45 0 1,0 4.9,0 a2.45,2.45 0 1,0 -4.9,0 M541.1,244.5 a2.45,2.45 0 1,0 4.9,0 a2.45,2.45 0 1,0 -4.9,0 M697.2,265.1 a2.45,2.45 0 1,0 4.9,0 a2.45,2.45 0 1,0 -4.9,0 M568.0,271.2 a2.45,2.45 0 1,0 4.9,0 a2.45,2.45 0 1,0 -4.9,0 M572.1,260.2 a2.45,2.45 0 1,0 4.9,0 a2.45,2.45 0 1,0 -4.9,0 M506.9,237.2 a2.45,2.45 0 1,0 4.9,0 a2.45,2.45 0 1,0 -4.9,0 M505.5,241.3 a2.45,2.45 0 1,0 4.9,0 a2.45,2.45 0 1,0 -4.9,0 M716.2,241.6 a2.45,2.45 0 1,0 4.9,0 a2.45,2.45 0 1,0 -4.9,0 M523.6,273.4 a2.45,2.45 0 1,0 4.9,0 a2.45,2.45 0 1,0 -4.9,0 M690.4,282.2 a2.45,2.45 0 1,0 4.9,0 a2.45,2.45 0 1,0 -4.9,0 M608.1,255.1 a2.45,2.45 0 1,0 4.9,0 a2.45,2.45 0 1,0 -4.9,0 M724.2,251.3 a2.45,2.45 0 1,0 4.9,0 a2.45,2.45 0 1,0 -4.9,0 M478.4,254.8 a2.45,2.45 0 1,0 4.9,0 a2.45,2.45 0 1,0 -4.9,0 M712.5,242.3 a2.45,2.45 0 1,0 4.9,0 a2.45,2.45 0 1,0 -4.9,0 M661.6,249.2 a2.45,2.45 0 1,0 4.9,0 a2.45,2.45 0 1,0 -4.9,0 M600.0,262.5 a2.45,2.45 0 1,0 4.9,0 a2.45,2.45 0 1,0 -4.9,0 M642.4,258.5 a2.45,2.45 0 1,0 4.9,0 a2.45,2.45 0 1,0 -4.9,0 M646.5,245.1 a2.45,2.45 0 1,0 4.9,0 a2.45,2.45 0 1,0 -4.9,0 M564.0,246.0 a2.45,2.45 0 1,0 4.9,0 a2.45,2.45 0 1,0 -4.9,0 M620.0,247.9 a2.45,2.45 0 1,0 4.9,0 a2.45,2.45 0 1,0 -4.9,0 M497.8,217.2 a2.45,2.45 0 1,0 4.9,0 a2.45,2.45 0 1,0 -4.9,0 M435.5,250.4 a2.45,2.45 0 1,0 4.9,0 a2.45,2.45 0 1,0 -4.9,0 M632.7,245.4 a2.45,2.45 0 1,0 4.9,0 a2.45,2.45 0 1,0 -4.9,0 M571.9,260.0 a2.45,2.45 0 1,0 4.9,0 a2.45,2.45 0 1,0 -4.9,0 M701.6,251.7 a2.45,2.45 0 1,0 4.9,0 a2.45,2.45 0 1,0 -4.9,0 M508.5,240.1 a2.45,2.45 0 1,0 4.9,0 a2.45,2.45 0 1,0 -4.9,0 M675.3,239.5 a2.45,2.45 0 1,0 4.9,0 a2.45,2.45 0 1,0 -4.9,0 M725.9,217.3 a2.45,2.45 0 1,0 4.9,0 a2.45,2.45 0 1,0 -4.9,0 M699.4,241.8 a2.45,2.45 0 1,0 4.9,0 a2.45,2.45 0 1,0 -4.9,0 M719.3,246.3 a2.45,2.45 0 1,0 4.9,0 a2.45,2.45 0 1,0 -4.9,0 M476.9,271.7 a2.45,2.45 0 1,0 4.9,0 a2.45,2.45 0 1,0 -4.9,0 M478.7,286.4 a2.45,2.45 0 1,0 4.9,0 a2.45,2.45 0 1,0 -4.9,0 M497.8,216.7 a2.45,2.45 0 1,0 4.9,0 a2.45,2.45 0 1,0 -4.9,0 M537.9,236.1 a2.45,2.45 0 1,0 4.9,0 a2.45,2.45 0 1,0 -4.9,0 M463.8,247.7 a2.45,2.45 0 1,0 4.9,0 a2.45,2.45 0 1,0 -4.9,0 M474.4,269.8 a2.45,2.45 0 1,0 4.9,0 a2.45,2.45 0 1,0 -4.9,0 M434.6,263.7 a2.45,2.45 0 1,0 4.9,0 a2.45,2.45 0 1,0 -4.9,0 M710.0,265.9 a2.45,2.45 0 1,0 4.9,0 a2.45,2.45 0 1,0 -4.9,0 M537.7,283.6 a2.45,2.45 0 1,0 4.9,0 a2.45,2.45 0 1,0 -4.9,0 M617.5,251.3 a2.45,2.45 0 1,0 4.9,0 a2.45,2.45 0 1,0 -4.9,0 M565.9,235.6 a2.45,2.45 0 1,0 4.9,0 a2.45,2.45 0 1,0 -4.9,0 M652.7,245.1 a2.45,2.45 0 1,0 4.9,0 a2.45,2.45 0 1,0 -4.9,0 M671.7,237.1 a2.45,2.45 0 1,0 4.9,0 a2.45,2.45 0 1,0 -4.9,0 M544.3,248.7 a2.45,2.45 0 1,0 4.9,0 a2.45,2.45 0 1,0 -4.9,0 M590.2,215.6 a2.45,2.45 0 1,0 4.9,0 a2.45,2.45 0 1,0 -4.9,0 M458.4,260.5 a2.45,2.45 0 1,0 4.9,0 a2.45,2.45 0 1,0 -4.9,0 M515.0,264.9 a2.45,2.45 0 1,0 4.9,0 a2.45,2.45 0 1,0 -4.9,0 M496.1,243.4 a2.45,2.45 0 1,0 4.9,0 a2.45,2.45 0 1,0 -4.9,0 M521.9,228.2 a2.45,2.45 0 1,0 4.9,0 a2.45,2.45 0 1,0 -4.9,0 M526.7,247.7 a2.45,2.45 0 1,0 4.9,0 a2.45,2.45 0 1,0 -4.9,0 M602.1,233.2 a2.45,2.45 0 1,0 4.9,0 a2.45,2.45 0 1,0 -4.9,0 M529.2,254.0 a2.45,2.45 0 1,0 4.9,0 a2.45,2.45 0 1,0 -4.9,0 M527.4,262.6 a2.45,2.45 0 1,0 4.9,0 a2.45,2.45 0 1,0 -4.9,0 M679.3,228.6 a2.45,2.45 0 1,0 4.9,0 a2.45,2.45 0 1,0 -4.9,0 M432.7,226.4 a2.45,2.45 0 1,0 4.9,0 a2.45,2.45 0 1,0 -4.9,0 M430.6,226.9 a2.45,2.45 0 1,0 4.9,0 a2.45,2.45 0 1,0 -4.9,0 M446.2,252.7 a2.45,2.45 0 1,0 4.9,0 a2.45,2.45 0 1,0 -4.9,0 M689.6,262.2 a2.45,2.45 0 1,0 4.9,0 a2.45,2.45 0 1,0 -4.9,0 M619.8,262.3 a2.45,2.45 0 1,0 4.9,0 a2.45,2.45 0 1,0 -4.9,0 M648.2,249.9 a2.45,2.45 0 1,0 4.9,0 a2.45,2.45 0 1,0 -4.9,0 M717.3,239.4 a2.45,2.45 0 1,0 4.9,0 a2.45,2.45 0 1,0 -4.9,0 M494.7,240.3 a2.45,2.45 0 1,0 4.9,0 a2.45,2.45 0 1,0 -4.9,0 M706.0,265.8 a2.45,2.45 0 1,0 4.9,0 a2.45,2.45 0 1,0 -4.9,0 M502.1,244.4 a2.45,2.45 0 1,0 4.9,0 a2.45,2.45 0 1,0 -4.9,0 M585.2,246.8 a2.45,2.45 0 1,0 4.9,0 a2.45,2.45 0 1,0 -4.9,0 M634.1,245.8 a2.45,2.45 0 1,0 4.9,0 a2.45,2.45 0 1,0 -4.9,0 M669.0,247.3 a2.45,2.45 0 1,0 4.9,0 a2.45,2.45 0 1,0 -4.9,0 M503.7,249.6 a2.45,2.45 0 1,0 4.9,0 a2.45,2.45 0 1,0 -4.9,0 M572.6,239.2 a2.45,2.45 0 1,0 4.9,0 a2.45,2.45 0 1,0 -4.9,0 M442.8,245.3 a2.45,2.45 0 1,0 4.9,0 a2.45,2.45 0 1,0 -4.9,0 M515.7,244.0 a2.45,2.45 0 1,0 4.9,0 a2.45,2.45 0 1,0 -4.9,0 M724.3,256.1 a2.45,2.45 0 1,0 4.9,0 a2.45,2.45 0 1,0 -4.9,0 M701.5,241.8 a2.45,2.45 0 1,0 4.9,0 a2.45,2.45 0 1,0 -4.9,0 M604.3,248.6 a2.45,2.45 0 1,0 4.9,0 a2.45,2.45 0 1,0 -4.9,0 M665.8,274.8 a2.45,2.45 0 1,0 4.9,0 a2.45,2.45 0 1,0 -4.9,0 M700.6,240.7 a2.45,2.45 0 1,0 4.9,0 a2.45,2.45 0 1,0 -4.9,0 M528.9,250.5 a2.45,2.45 0 1,0 4.9,0 a2.45,2.45 0 1,0 -4.9,0 M724.2,234.8 a2.45,2.45 0 1,0 4.9,0 a2.45,2.45 0 1,0 -4.9,0 M564.1,249.1 a2.45,2.45 0 1,0 4.9,0 a2.45,2.45 0 1,0 -4.9,0 M476.9,248.3 a2.45,2.45 0 1,0 4.9,0 a2.45,2.45 0 1,0 -4.9,0 M588.6,244.2 a2.45,2.45 0 1,0 4.9,0 a2.45,2.45 0 1,0 -4.9,0 M607.7,247.2 a2.45,2.45 0 1,0 4.9,0 a2.45,2.45 0 1,0 -4.9,0 M637.6,252.9 a2.45,2.45 0 1,0 4.9,0 a2.45,2.45 0 1,0 -4.9,0 M631.0,257.0 a2.45,2.45 0 1,0 4.9,0 a2.45,2.45 0 1,0 -4.9,0 M441.5,222.8 a2.45,2.45 0 1,0 4.9,0 a2.45,2.45 0 1,0 -4.9,0 M621.4,267.7 a2.45,2.45 0 1,0 4.9,0 a2.45,2.45 0 1,0 -4.9,0 M706.5,251.5 a2.45,2.45 0 1,0 4.9,0 a2.45,2.45 0 1,0 -4.9,0 M630.8,238.4 a2.45,2.45 0 1,0 4.9,0 a2.45,2.45 0 1,0 -4.9,0 M722.6,242.0 a2.45,2.45 0 1,0 4.9,0 a2.45,2.45 0 1,0 -4.9,0 M583.0,239.6 a2.45,2.45 0 1,0 4.9,0 a2.45,2.45 0 1,0 -4.9,0 M672.9,236.9 a2.45,2.45 0 1,0 4.9,0 a2.45,2.45 0 1,0 -4.9,0 M471.3,230.4 a2.45,2.45 0 1,0 4.9,0 a2.45,2.45 0 1,0 -4.9,0 M698.6,243.1 a2.45,2.45 0 1,0 4.9,0 a2.45,2.45 0 1,0 -4.9,0 M560.4,210.3 a2.45,2.45 0 1,0 4.9,0 a2.45,2.45 0 1,0 -4.9,0 M692.9,260.3 a2.45,2.45 0 1,0 4.9,0 a2.45,2.45 0 1,0 -4.9,0 M525.6,244.0 a2.45,2.45 0 1,0 4.9,0 a2.45,2.45 0 1,0 -4.9,0 M617.0,251.7 a2.45,2.45 0 1,0 4.9,0 a2.45,2.45 0 1,0 -4.9,0 M683.9,254.2 a2.45,2.45 0 1,0 4.9,0 a2.45,2.45 0 1,0 -4.9,0 M643.2,243.2 a2.45,2.45 0 1,0 4.9,0 a2.45,2.45 0 1,0 -4.9,0 M615.6,227.9 a2.45,2.45 0 1,0 4.9,0 a2.45,2.45 0 1,0 -4.9,0 M721.2,256.3 a2.45,2.45 0 1,0 4.9,0 a2.45,2.45 0 1,0 -4.9,0 M455.5,256.3 a2.45,2.45 0 1,0 4.9,0 a2.45,2.45 0 1,0 -4.9,0 M459.8,237.5 a2.45,2.45 0 1,0 4.9,0 a2.45,2.45 0 1,0 -4.9,0 M595.1,239.9 a2.45,2.45 0 1,0 4.9,0 a2.45,2.45 0 1,0 -4.9,0 M716.4,221.3 a2.45,2.45 0 1,0 4.9,0 a2.45,2.45 0 1,0 -4.9,0 M635.7,233.5 a2.45,2.45 0 1,0 4.9,0 a2.45,2.45 0 1,0 -4.9,0 M522.3,244.0 a2.45,2.45 0 1,0 4.9,0 a2.45,2.45 0 1,0 -4.9,0 M461.5,251.3 a2.45,2.45 0 1,0 4.9,0 a2.45,2.45 0 1,0 -4.9,0 M564.0,244.2 a2.45,2.45 0 1,0 4.9,0 a2.45,2.45 0 1,0 -4.9,0 M573.6,249.3 a2.45,2.45 0 1,0 4.9,0 a2.45,2.45 0 1,0 -4.9,0 M570.0,264.9 a2.45,2.45 0 1,0 4.9,0 a2.45,2.45 0 1,0 -4.9,0 M615.5,246.9 a2.45,2.45 0 1,0 4.9,0 a2.45,2.45 0 1,0 -4.9,0 M511.2,249.3 a2.45,2.45 0 1,0 4.9,0 a2.45,2.45 0 1,0 -4.9,0 M694.0,250.1 a2.45,2.45 0 1,0 4.9,0 a2.45,2.45 0 1,0 -4.9,0 M515.8,252.6 a2.45,2.45 0 1,0 4.9,0 a2.45,2.45 0 1,0 -4.9,0 M461.3,224.8 a2.45,2.45 0 1,0 4.9,0 a2.45,2.45 0 1,0 -4.9,0 M534.1,237.9 a2.45,2.45 0 1,0 4.9,0 a2.45,2.45 0 1,0 -4.9,0 M710.7,234.7 a2.45,2.45 0 1,0 4.9,0 a2.45,2.45 0 1,0 -4.9,0 M477.0,281.2 a2.45,2.45 0 1,0 4.9,0 a2.45,2.45 0 1,0 -4.9,0 M512.6,260.4 a2.45,2.45 0 1,0 4.9,0 a2.45,2.45 0 1,0 -4.9,0 M707.9,250.7 a2.45,2.45 0 1,0 4.9,0 a2.45,2.45 0 1,0 -4.9,0 M533.8,243.8 a2.45,2.45 0 1,0 4.9,0 a2.45,2.45 0 1,0 -4.9,0 M682.8,251.5 a2.45,2.45 0 1,0 4.9,0 a2.45,2.45 0 1,0 -4.9,0 M442.7,249.5 a2.45,2.45 0 1,0 4.9,0 a2.45,2.45 0 1,0 -4.9,0 M696.5,234.4 a2.45,2.45 0 1,0 4.9,0 a2.45,2.45 0 1,0 -4.9,0 M500.5,243.1 a2.45,2.45 0 1,0 4.9,0 a2.45,2.45 0 1,0 -4.9,0 M483.4,259.9 a2.45,2.45 0 1,0 4.9,0 a2.45,2.45 0 1,0 -4.9,0 " fill="#00f"/>
<path d="M431.4,252.75 L433.2,252.64 L435,252.52 L436.8,252.38 L438.6,252.24 L440.4,252.08 L442.2,251.91 M450.4,251.02 L452.45,250.78 L454.5,250.52 L456.55,250.26 L458.6,249.99 M463.3,249.36 L465.35,249.08 L467.4,248.79 L469.45,248.51 L471.5,248.23 M480.3,247.08 L482.35,246.83 L484.4,246.58 L486.45,246.35 L488.5,246.12 M493.3,245.63 L495.32,245.44 L497.35,245.27 L499.38,245.1 L501.4,244.95 M510.4,244.43 L512.52,244.35 L514.65,244.27 L516.77,244.21 L518.9,244.17 M524,244.1 L525.98,244.09 L527.95,244.09 L529.92,244.1 L531.9,244.11 M540.7,244.24 L542.75,244.29 L544.8,244.33 L546.85,244.38 L548.9,244.43 M553.8,244.55 L555.85,244.6 L557.9,244.65 L559.95,244.7 L562,244.75 M570.1,244.9 L572.33,244.93 L574.55,244.96 L576.77,244.98 L579,245.01 M583.7,245.04 L585.75,245.05 L587.8,245.06 L589.85,245.06 L591.9,245.07 M600.7,245.09 L602.75,245.1 L604.8,245.11 L606.85,245.13 L608.9,245.14 M613.7,245.21 L615.73,245.24 L617.75,245.28 L619.77,245.33 L621.8,245.39 M629.8,245.69 L632,245.8 L634.2,245.92 L636.4,246.05 L638.6,246.19 M643.6,246.56 L645.55,246.72 L647.5,246.88 L649.45,247.06 L651.4,247.24 M659.3,248.05 L661.45,248.29 L663.6,248.53 L665.75,248.78 L667.9,249.03 M672.9,249.63 L675.02,249.88 L677.15,250.13 L679.27,250.38 L681.4,250.62 M689.3,251.48 L691.45,251.69 L693.6,251.9 L695.75,252.09 L697.9,252.26 M702.9,252.62 L705.02,252.75 L707.15,252.86 L709.27,252.95 L711.4,253.03 M720,253.14 L722.15,253.12 L724.3,253.08 L726.45,253.02 L728.6,252.94 " fill="none" stroke="#f00" stroke-width="2.6"/>
</g>
<path d="M491.70,316 v-3 M491.70,178 v3 M551.90,316 v-3 M551.90,178 v3 M612.10,316 v-3 M612.10,178 v3 M672.30,316 v-3 M672.30,178 v3 " stroke="#000" stroke-width="1"/>
<path d="M431.5,312.60 h3 M732.5,312.60 h-3 M431.5,279.80 h3 M732.5,279.80 h-3 M431.5,247.00 h3 M732.5,247.00 h-3 M431.5,214.20 h3 M732.5,214.20 h-3 M431.5,181.40 h3 M732.5,181.40 h-3 " stroke="#000" stroke-width="1"/>
<path d="M443.54,316 v-2 M443.54,178 v2 M455.58,316 v-2 M455.58,178 v2 M467.62,316 v-2 M467.62,178 v2 M479.66,316 v-2 M479.66,178 v2 M503.74,316 v-2 M503.74,178 v2 M515.78,316 v-2 M515.78,178 v2 M527.82,316 v-2 M527.82,178 v2 M539.86,316 v-2 M539.86,178 v2 M563.94,316 v-2 M563.94,178 v2 M575.98,316 v-2 M575.98,178 v2 M588.02,316 v-2 M588.02,178 v2 M600.06,316 v-2 M600.06,178 v2 M624.14,316 v-2 M624.14,178 v2 M636.18,316 v-2 M636.18,178 v2 M648.22,316 v-2 M648.22,178 v2 M660.26,316 v-2 M660.26,178 v2 M684.34,316 v-2 M684.34,178 v2 M696.38,316 v-2 M696.38,178 v2 M708.42,316 v-2 M708.42,178 v2 M720.46,316 v-2 M720.46,178 v2 " stroke="#000" stroke-width="1"/>
<path d="M431.5,306.04 h2 M732.5,306.04 h-2 M431.5,299.48 h2 M732.5,299.48 h-2 M431.5,292.92 h2 M732.5,292.92 h-2 M431.5,286.36 h2 M732.5,286.36 h-2 M431.5,273.24 h2 M732.5,273.24 h-2 M431.5,266.68 h2 M732.5,266.68 h-2 M431.5,260.12 h2 M732.5,260.12 h-2 M431.5,253.56 h2 M732.5,253.56 h-2 M431.5,240.44 h2 M732.5,240.44 h-2 M431.5,233.88 h2 M732.5,233.88 h-2 M431.5,227.32 h2 M732.5,227.32 h-2 M431.5,220.76 h2 M732.5,220.76 h-2 M431.5,207.64 h2 M732.5,207.64 h-2 M431.5,201.08 h2 M732.5,201.08 h-2 M431.5,194.52 h2 M732.5,194.52 h-2 M431.5,187.96 h2 M732.5,187.96 h-2 " stroke="#000" stroke-width="1"/>
<path d="M431.5,316 L431.5,178 L732.5,178 L732.5,316 Z" fill="none" stroke="#000" stroke-width="1"/>
<text x="427.00" y="316.60" font-size="12" text-anchor="end" fill="#000" stroke="#000" stroke-width="0.32" letter-spacing="0.8" >−100</text>
<text x="427.00" y="283.80" font-size="12" text-anchor="end" fill="#000" stroke="#000" stroke-width="0.32" letter-spacing="0.8" >−50</text>
<text x="427.00" y="251.00" font-size="12" text-anchor="end" fill="#000" stroke="#000" stroke-width="0.32" letter-spacing="0.8" >0</text>
<text x="427.00" y="218.20" font-size="12" text-anchor="end" fill="#000" stroke="#000" stroke-width="0.32" letter-spacing="0.8" >50</text>
<text x="427.00" y="185.40" font-size="12" text-anchor="end" fill="#000" stroke="#000" stroke-width="0.32" letter-spacing="0.8" >100</text>
<text x="431.50" y="331.00" font-size="12" text-anchor="middle" fill="#000" stroke="#000" stroke-width="0.32" letter-spacing="1.0" >0</text>
<text x="491.70" y="331.00" font-size="12" text-anchor="middle" fill="#000" stroke="#000" stroke-width="0.32" letter-spacing="1.0" >0.2</text>
<text x="551.90" y="331.00" font-size="12" text-anchor="middle" fill="#000" stroke="#000" stroke-width="0.32" letter-spacing="1.0" >0.4</text>
<text x="612.10" y="331.00" font-size="12" text-anchor="middle" fill="#000" stroke="#000" stroke-width="0.32" letter-spacing="1.0" >0.6</text>
<text x="672.30" y="331.00" font-size="12" text-anchor="middle" fill="#000" stroke="#000" stroke-width="0.32" letter-spacing="1.0" >0.8</text>
<text x="732.50" y="331.00" font-size="12" text-anchor="middle" fill="#000" stroke="#000" stroke-width="0.32" letter-spacing="1.0" >1</text>
<text x="443.55" y="195.90" font-size="12.8" text-anchor="start" fill="#000" stroke="#000" stroke-width="0.32" textLength="77.78" lengthAdjust="spacing" >KOI 2276.01</text>
<text x="561.05" y="292.80" font-size="12.8" text-anchor="start" fill="#000" stroke="#000" stroke-width="0.32" textLength="72.67" lengthAdjust="spacing" >P = 3.152 d</text>
<text x="561.38" y="306.10" font-size="12.8" text-anchor="start" fill="#000" stroke="#000" stroke-width="0.32" textLength="71.06" lengthAdjust="spacing" >A = 6.7 min</text>
<text x="0.00" y="0.00" font-size="19.2" text-anchor="start" fill="#000" stroke="#000" stroke-width="0.15" textLength="89.61" lengthAdjust="spacing"  transform="translate(151.40,358.50) scale(1.08,1)">Freq [1/d]</text>
<text x="0.00" y="0.00" font-size="19.6" text-anchor="start" fill="#000" stroke="#000" stroke-width="0.15" textLength="58.78" lengthAdjust="spacing"  transform="translate(572.36,358.70) scale(1.08,1)">Phase</text>
<text x="0" y="0" font-size="17.62" text-anchor="middle" stroke="#000" stroke-width="0.15" transform="translate(15.1,160.65) rotate(-90) scale(1,1.1)">Normalized Power Spectrum</text>
<text x="0" y="0" font-size="17.5" text-anchor="middle" stroke="#000" stroke-width="0.15" transform="translate(394.8,242.5) rotate(-90) scale(1,1.12)">O−C [min]</text>
</svg>
</body></html>
